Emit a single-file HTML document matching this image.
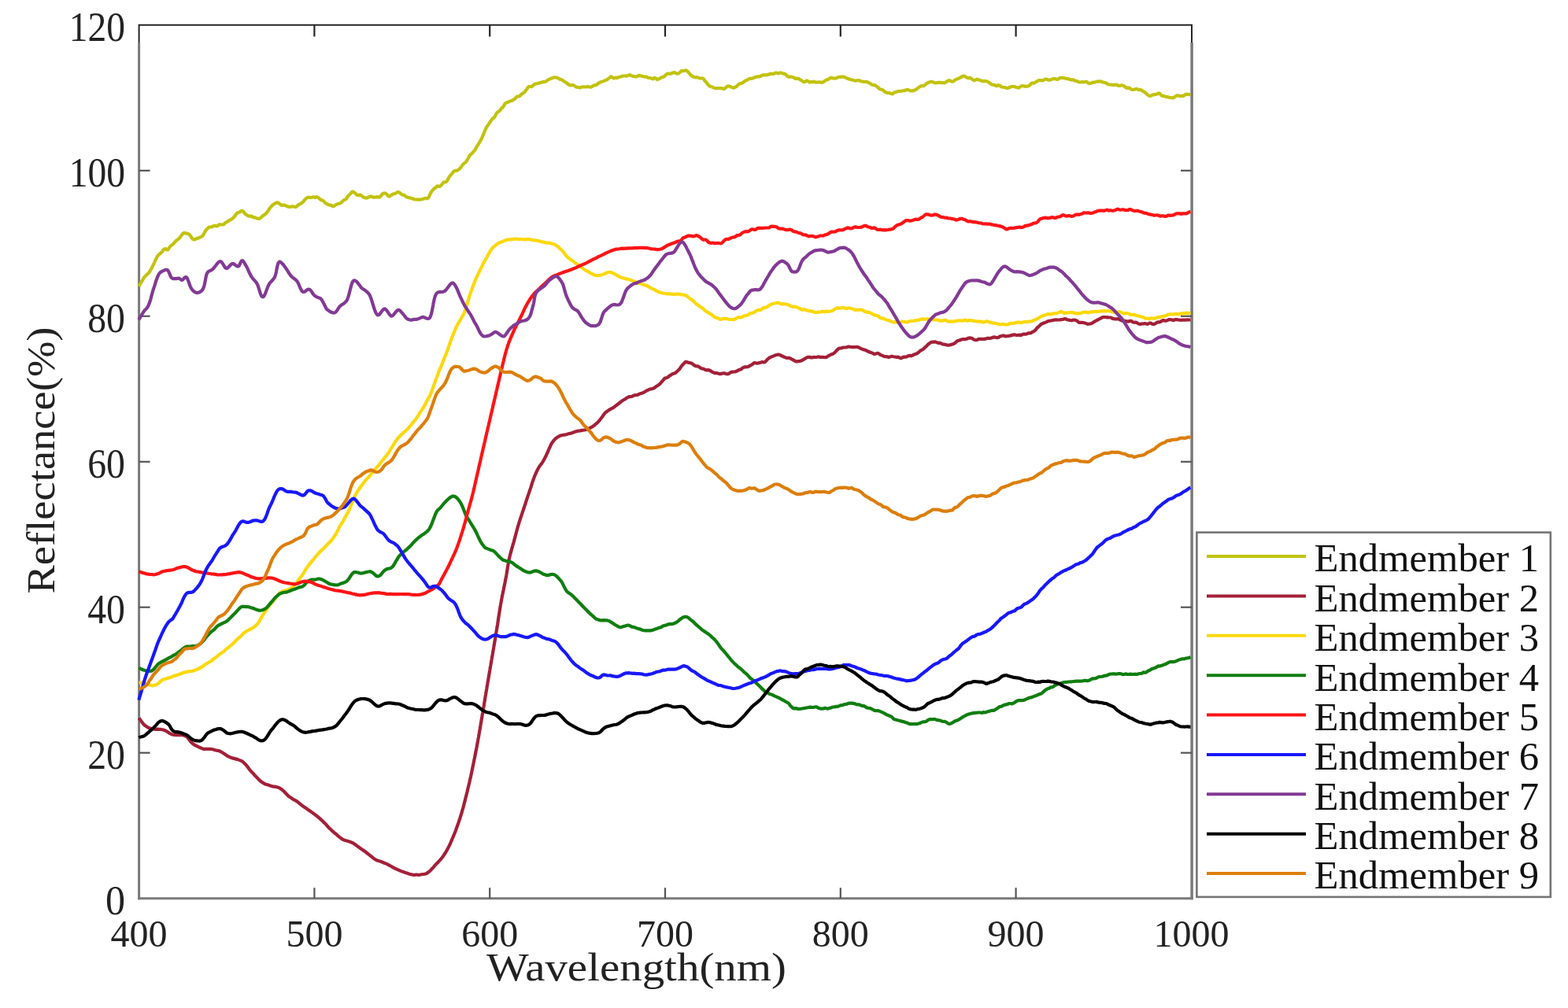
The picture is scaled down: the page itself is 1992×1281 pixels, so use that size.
<!DOCTYPE html>
<html><head><meta charset="utf-8"><style>html,body{margin:0;padding:0;background:#fff;overflow:hidden}svg{display:block}</style></head>
<body><svg width="1992" height="1281" viewBox="0 0 1992 1281">
<rect width="1992" height="1281" fill="#fff"/>
<line x1="176.6" y1="54" x2="176.6" y2="1143.2" stroke="#7a7a7a" stroke-width="3"/>
<line x1="1514.1" y1="54" x2="1514.1" y2="1143.2" stroke="#7a7a7a" stroke-width="3.5"/>
<line x1="175.1" y1="1141.7" x2="1515.5" y2="1141.7" stroke="#7a7a7a" stroke-width="3"/>
<path d="M176.6,54 V31.8 H1514 V54" fill="none" stroke="#262626" stroke-width="2"/>
<line x1="399.4" y1="1141.7" x2="399.4" y2="1128.2" stroke="#555" stroke-width="2.2"/>
<line x1="399.4" y1="31.8" x2="399.4" y2="46.5" stroke="#262626" stroke-width="2.2"/>
<line x1="622.2" y1="1141.7" x2="622.2" y2="1128.2" stroke="#555" stroke-width="2.2"/>
<line x1="622.2" y1="31.8" x2="622.2" y2="46.5" stroke="#262626" stroke-width="2.2"/>
<line x1="845.0" y1="1141.7" x2="845.0" y2="1128.2" stroke="#555" stroke-width="2.2"/>
<line x1="845.0" y1="31.8" x2="845.0" y2="46.5" stroke="#262626" stroke-width="2.2"/>
<line x1="1067.8" y1="1141.7" x2="1067.8" y2="1128.2" stroke="#555" stroke-width="2.2"/>
<line x1="1067.8" y1="31.8" x2="1067.8" y2="46.5" stroke="#262626" stroke-width="2.2"/>
<line x1="1290.6" y1="1141.7" x2="1290.6" y2="1128.2" stroke="#555" stroke-width="2.2"/>
<line x1="1290.6" y1="31.8" x2="1290.6" y2="46.5" stroke="#262626" stroke-width="2.2"/>
<line x1="176.6" y1="956.7" x2="190.6" y2="956.7" stroke="#555" stroke-width="2.2"/>
<line x1="1500" y1="956.7" x2="1514" y2="956.7" stroke="#555" stroke-width="2.2"/>
<line x1="176.6" y1="771.7" x2="190.6" y2="771.7" stroke="#555" stroke-width="2.2"/>
<line x1="1500" y1="771.7" x2="1514" y2="771.7" stroke="#555" stroke-width="2.2"/>
<line x1="176.6" y1="586.8" x2="190.6" y2="586.8" stroke="#555" stroke-width="2.2"/>
<line x1="1500" y1="586.8" x2="1514" y2="586.8" stroke="#555" stroke-width="2.2"/>
<line x1="176.6" y1="401.8" x2="190.6" y2="401.8" stroke="#555" stroke-width="2.2"/>
<line x1="1500" y1="401.8" x2="1514" y2="401.8" stroke="#555" stroke-width="2.2"/>
<line x1="176.6" y1="216.8" x2="190.6" y2="216.8" stroke="#555" stroke-width="2.2"/>
<line x1="1500" y1="216.8" x2="1514" y2="216.8" stroke="#555" stroke-width="2.2"/>
<path d="M176.5,364.0 177.2,362.5 178.2,360.8 179.2,359.0 180.2,357.4 181.2,355.9 182.2,354.1 183.2,352.3 184.1,351.3 185.0,350.5 186.1,349.4 187.1,348.5 188.1,347.8 189.0,347.0 190.0,345.4 191.0,343.6 192.1,341.9 193.1,340.1 194.0,338.0 195.0,336.1 195.7,334.6 196.4,333.0 197.0,331.5 197.7,330.2 198.3,329.0 199.1,327.4 200.0,325.8 201.3,324.1 202.8,322.7 204.3,321.5 205.9,320.1 207.5,317.6 209.0,316.3 210.4,316.2 211.9,317.4 213.4,317.3 215.0,314.7 216.3,312.9 217.7,311.8 219.1,311.0 220.5,309.5 222.0,307.8 223.4,306.3 224.8,305.0 226.2,304.1 227.5,303.1 229.0,301.2 230.5,299.2 232.0,297.1 233.4,296.0 234.8,296.1 236.2,296.6 237.5,296.7 238.8,297.1 240.1,297.7 241.4,298.9 242.6,300.6 243.8,302.7 245.0,304.0 246.7,304.5 248.3,304.0 250.0,302.9 251.5,302.9 253.0,302.2 254.6,301.4 256.1,300.5 257.5,299.6 258.6,297.8 259.6,295.9 260.5,294.3 261.4,292.8 262.4,291.6 263.8,290.3 265.3,288.8 267.1,288.5 269.0,288.4 271.0,287.2 273.0,286.8 275.0,287.5 276.8,286.9 278.6,285.3 280.4,285.3 282.3,285.5 284.1,285.4 285.8,283.4 287.5,282.6 289.1,281.4 290.6,280.4 292.0,279.7 293.4,279.2 294.8,278.1 296.2,276.9 297.5,275.6 298.8,273.9 300.1,272.1 301.3,270.6 302.5,270.3 303.7,269.7 305.0,269.2 306.2,268.0 307.7,267.8 309.1,268.8 310.5,270.8 312.0,272.1 313.5,273.3 315.0,274.2 316.6,274.8 318.3,274.5 320.0,275.1 321.7,276.1 323.4,276.3 325.0,276.9 326.9,277.6 328.8,277.9 330.6,277.3 332.5,275.7 333.7,274.3 335.0,273.6 336.2,272.7 337.5,271.7 338.7,270.4 340.0,268.8 341.2,267.0 342.5,265.0 343.8,263.4 345.2,261.8 346.5,260.3 347.9,259.4 349.3,258.6 350.8,257.8 352.5,257.3 354.2,258.2 356.0,259.8 358.0,260.9 360.0,260.6 362.1,260.8 364.1,261.8 366.2,262.7 368.2,262.9 370.0,262.6 371.9,262.2 373.8,262.7 375.7,263.2 377.5,261.8 379.2,260.0 380.9,259.6 382.5,258.4 384.1,257.3 385.5,255.9 386.8,254.3 388.1,253.0 389.6,251.6 391.2,250.8 392.8,250.8 394.5,251.2 396.4,250.8 398.3,250.3 400.3,251.1 402.2,250.2 404.1,250.9 405.9,252.5 407.5,253.9 409.4,254.5 411.1,255.5 412.7,257.4 414.3,258.7 415.9,259.5 417.5,260.2 419.2,260.7 420.9,260.9 422.7,262.3 424.4,261.9 426.2,260.4 428.0,259.6 429.8,259.1 431.6,258.6 433.5,257.5 435.3,255.6 437.1,254.1 438.7,253.4 440.1,252.6 441.4,250.3 442.6,248.6 443.8,247.3 445.0,246.5 446.2,245.2 447.4,243.6 448.8,243.8 450.2,244.7 451.7,246.1 453.2,247.6 454.8,247.9 456.4,247.8 458.2,247.9 460.0,249.3 461.6,250.6 463.4,251.3 465.3,251.6 467.2,251.1 469.2,250.1 471.2,249.6 473.2,250.2 475.1,250.9 476.9,250.5 478.5,250.2 480.0,250.4 481.8,250.6 483.3,249.8 484.7,247.8 486.1,246.3 487.5,245.6 489.3,245.5 491.2,246.7 493.1,249.1 495.0,249.6 496.6,248.4 498.2,247.2 499.9,246.3 501.6,246.1 503.3,245.3 505.0,244.2 506.6,244.2 508.2,245.2 509.8,246.9 511.5,247.6 513.2,247.9 515.0,249.2 516.7,250.5 518.5,251.0 520.4,251.4 522.4,251.9 524.4,252.5 526.3,253.2 528.2,253.5 530.0,253.7 532.0,253.7 533.9,253.6 535.8,253.3 537.7,252.8 539.5,252.1 541.2,252.0 542.6,252.3 543.9,251.6 545.1,249.6 546.3,246.9 547.5,244.6 548.7,242.7 549.9,241.5 551.1,240.1 552.5,238.9 554.0,237.9 555.5,236.3 557.2,236.8 558.8,236.9 560.4,235.6 562.0,233.5 563.6,231.6 565.0,231.5 566.4,231.3 567.7,230.2 568.9,228.1 570.1,225.9 571.3,224.0 572.4,222.7 573.7,221.2 575.0,219.6 576.3,217.9 577.8,217.2 579.2,216.9 580.7,216.7 582.1,215.9 583.6,214.8 585.0,213.3 586.2,211.6 587.4,209.8 588.6,208.5 589.6,207.6 590.6,206.9 591.7,206.2 592.7,204.6 593.8,202.8 595.0,200.7 596.0,199.0 597.1,197.1 598.3,196.0 599.5,195.1 600.7,193.7 601.9,192.3 603.2,191.0 604.4,188.7 605.6,186.5 606.8,184.7 607.9,183.0 609.0,181.2 610.0,179.5 610.9,177.7 611.8,176.1 612.6,174.4 613.3,172.7 614.1,171.0 614.8,169.3 615.5,167.5 616.1,165.7 616.9,164.1 617.6,162.6 618.3,161.2 619.1,160.1 620.0,159.1 621.2,157.3 622.3,155.4 623.6,153.5 624.8,151.9 626.1,150.4 627.4,149.8 628.7,148.0 630.0,145.5 631.2,143.4 632.4,142.2 633.6,141.7 634.9,140.5 636.2,139.0 637.4,137.3 638.7,136.4 640.0,134.6 641.2,132.3 642.5,130.9 644.1,130.2 645.8,129.7 647.4,128.9 649.0,128.3 650.7,127.7 652.5,126.7 653.9,125.9 655.3,124.3 656.8,122.7 658.3,122.5 659.8,122.4 661.4,120.8 662.9,119.4 664.5,118.3 666.0,117.4 667.5,115.6 669.1,113.5 670.6,111.3 672.2,109.9 673.8,110.0 675.3,110.3 676.8,108.9 678.4,107.5 679.8,106.6 681.2,106.4 683.1,106.0 684.8,105.6 686.5,105.0 688.2,104.6 690.0,104.0 691.7,104.1 693.5,103.6 695.4,102.0 697.2,100.9 699.1,100.2 700.8,99.4 702.5,98.8 704.5,98.3 706.3,98.5 708.1,98.9 710.0,99.8 711.4,100.7 712.9,101.1 714.5,101.9 716.1,103.0 717.7,104.2 719.3,104.9 720.9,106.3 722.5,107.5 724.2,108.3 726.0,108.4 727.7,107.9 729.4,108.6 731.2,110.2 733.1,110.8 735.0,111.0 736.8,111.4 738.7,110.8 740.7,110.3 742.8,110.5 744.8,110.3 746.8,110.0 748.8,110.5 750.7,110.8 752.5,109.7 754.4,108.4 756.3,108.4 758.1,107.6 759.8,106.1 761.6,104.9 763.3,104.2 765.0,103.7 766.6,103.1 768.2,102.5 769.8,102.0 771.4,101.1 773.0,100.0 774.6,98.6 776.2,97.2 778.1,98.4 779.9,99.6 781.8,98.5 783.7,99.1 785.6,98.2 787.5,97.8 789.2,97.3 791.0,96.5 792.7,96.5 794.5,96.4 796.3,96.7 798.1,95.9 800.0,95.0 801.8,96.1 803.7,96.8 805.6,96.8 807.6,97.7 809.6,97.1 811.6,95.8 813.6,96.1 815.5,96.9 817.5,97.2 819.5,97.6 821.5,97.6 823.5,98.9 825.5,99.0 827.5,99.6 829.4,100.4 831.3,98.8 833.2,99.6 835.0,101.1 836.9,100.4 838.7,99.4 840.5,98.3 842.2,97.9 844.0,97.0 845.7,95.3 847.5,93.9 849.3,93.5 851.1,93.6 852.9,93.5 854.7,92.4 856.5,91.9 858.3,92.8 860.0,93.7 861.9,93.5 863.9,91.8 865.8,90.2 867.7,90.1 869.5,90.0 871.2,89.3 872.8,90.1 874.2,91.3 875.6,93.0 877.0,94.9 878.4,96.2 880.0,97.0 881.7,97.9 883.5,98.4 885.4,98.2 887.3,98.7 889.2,99.5 890.9,99.5 892.5,99.4 893.9,100.3 895.1,102.1 896.3,103.6 897.4,104.7 898.6,106.4 900.0,108.1 901.5,109.6 903.1,109.9 904.8,110.6 906.6,111.4 908.4,112.1 910.3,112.1 912.0,112.0 913.8,112.2 915.7,112.1 917.6,112.4 919.6,113.1 921.4,112.0 923.3,110.2 925.0,109.3 927.0,109.7 928.8,110.6 930.6,111.4 932.5,111.6 934.1,110.6 935.7,110.0 937.3,108.2 939.0,106.5 940.7,106.1 942.5,105.8 944.0,104.9 945.6,103.5 947.3,102.5 949.1,101.7 950.8,100.7 952.6,99.8 954.3,99.8 955.9,99.6 957.5,99.0 959.2,98.2 960.9,97.6 962.4,97.3 964.0,97.3 965.7,97.1 967.5,96.0 969.1,95.4 970.7,95.4 972.4,95.4 974.2,95.1 976.0,94.9 977.9,94.0 979.7,93.6 981.5,93.9 983.3,93.6 985.0,92.6 986.9,92.6 988.9,93.4 990.8,92.5 992.7,92.5 994.5,93.5 996.4,93.7 998.2,94.7 1000.0,96.5 1001.9,97.7 1003.7,97.7 1005.4,97.7 1007.2,98.0 1009.0,99.0 1010.7,99.8 1012.5,99.7 1014.3,99.9 1016.1,101.0 1017.8,102.1 1019.6,103.3 1021.4,104.2 1023.2,103.6 1025.0,102.4 1026.8,103.5 1028.6,104.6 1030.3,104.1 1032.1,104.1 1033.9,103.7 1035.7,104.5 1037.5,104.6 1039.3,104.4 1041.0,104.4 1042.8,104.6 1044.5,104.9 1046.3,103.9 1048.1,102.8 1050.0,101.4 1051.6,101.2 1053.3,100.0 1055.0,98.9 1056.8,99.1 1058.6,99.4 1060.4,99.7 1062.2,99.4 1063.9,98.4 1065.7,97.9 1067.5,97.9 1069.5,97.6 1071.4,97.5 1073.4,98.3 1075.4,99.2 1077.4,100.0 1079.4,100.7 1081.3,101.2 1083.2,101.7 1085.0,102.2 1086.9,102.6 1088.7,102.3 1090.5,102.0 1092.2,102.5 1093.9,103.3 1095.7,103.6 1097.5,104.0 1099.1,103.8 1100.8,103.8 1102.4,104.5 1104.0,105.3 1105.7,106.3 1107.4,107.4 1109.1,108.0 1110.8,108.0 1112.5,108.8 1114.2,110.1 1115.9,111.6 1117.7,113.2 1119.4,113.7 1121.2,114.1 1123.0,115.7 1124.8,117.2 1126.5,117.8 1128.3,118.1 1130.0,118.1 1131.9,118.9 1133.8,119.5 1135.7,117.6 1137.5,117.2 1139.4,116.6 1141.3,115.9 1143.1,116.0 1145.0,115.7 1146.9,115.3 1148.7,115.1 1150.6,114.6 1152.4,113.9 1154.3,114.2 1156.2,115.3 1158.1,115.4 1160.0,115.4 1161.6,114.6 1163.2,114.2 1164.8,112.9 1166.5,111.6 1168.1,110.5 1169.8,109.3 1171.5,109.0 1173.2,109.3 1174.9,108.0 1176.6,106.6 1178.3,105.5 1180.0,104.7 1182.0,103.9 1183.9,103.9 1185.9,104.5 1187.9,105.4 1189.9,105.3 1191.9,104.8 1193.9,104.9 1195.9,105.1 1198.0,105.2 1200.0,105.5 1201.9,104.1 1203.7,103.1 1205.7,102.1 1207.6,102.8 1209.5,103.7 1211.5,103.2 1213.4,101.5 1215.3,100.5 1217.2,100.0 1219.0,99.2 1220.8,98.2 1222.5,97.0 1224.5,96.5 1226.5,97.5 1228.4,98.7 1230.3,99.2 1232.1,98.8 1233.9,99.8 1235.7,101.2 1237.5,102.3 1239.3,101.6 1241.1,100.7 1242.9,101.2 1244.6,101.9 1246.4,102.5 1248.2,103.1 1250.0,103.2 1251.8,103.0 1253.6,103.3 1255.4,104.2 1257.3,105.5 1259.1,106.9 1261.1,107.7 1263.0,107.8 1265.0,108.9 1266.7,109.1 1268.4,108.2 1270.2,108.8 1272.0,110.3 1273.9,110.7 1275.7,111.0 1277.6,111.4 1279.5,112.2 1281.3,111.5 1283.2,110.7 1285.0,110.0 1286.8,109.8 1288.7,110.0 1290.5,110.8 1292.3,111.2 1294.2,111.7 1296.0,110.3 1297.9,109.2 1299.7,109.2 1301.5,109.7 1303.2,109.9 1305.0,109.7 1306.8,109.2 1308.6,107.6 1310.3,105.9 1312.0,105.5 1313.7,105.6 1315.5,104.5 1317.2,103.6 1318.9,102.4 1320.7,102.0 1322.5,102.2 1324.3,102.4 1326.1,101.7 1327.9,100.5 1329.8,100.7 1331.7,101.7 1333.6,101.7 1335.5,101.1 1337.3,100.3 1339.1,99.9 1340.9,100.2 1342.5,100.8 1344.4,100.6 1346.2,99.2 1347.9,99.0 1349.6,98.9 1351.3,99.1 1353.1,99.6 1355.0,99.9 1356.6,100.1 1358.4,100.7 1360.1,101.4 1361.9,101.4 1363.8,101.4 1365.6,102.6 1367.5,102.9 1369.4,103.8 1371.3,104.5 1373.2,104.5 1375.0,103.9 1376.8,104.4 1378.6,103.9 1380.4,103.8 1382.3,105.6 1384.1,106.2 1385.9,105.8 1387.7,104.8 1389.6,104.6 1391.4,104.4 1393.2,103.6 1395.0,103.7 1396.8,103.4 1398.7,103.5 1400.5,104.2 1402.4,104.8 1404.3,105.2 1406.1,106.2 1407.9,107.2 1409.8,107.5 1411.5,107.6 1413.3,107.9 1415.0,107.8 1417.0,107.6 1419.0,108.0 1420.9,108.9 1422.8,108.9 1424.7,108.3 1426.5,108.7 1428.3,109.7 1430.0,111.0 1431.8,111.9 1433.5,111.6 1435.1,111.8 1436.7,113.3 1438.4,114.0 1440.0,113.9 1441.7,113.5 1443.4,113.1 1445.0,113.2 1446.7,114.2 1448.4,113.9 1450.0,114.4 1451.7,115.8 1453.4,116.7 1455.0,117.6 1456.6,119.4 1458.3,120.7 1460.0,121.7 1461.6,122.1 1463.3,121.0 1465.0,120.3 1466.7,120.2 1468.3,120.1 1470.0,119.5 1471.6,118.4 1473.3,118.7 1474.9,120.7 1476.5,121.8 1478.2,121.9 1480.0,122.4 1481.7,123.1 1483.5,123.1 1485.3,123.8 1487.2,124.0 1489.2,124.5 1491.1,124.0 1493.1,122.6 1495.0,121.3 1496.9,121.5 1498.8,122.0 1500.7,122.1 1502.7,122.1 1504.7,120.9 1506.6,119.7 1508.6,119.8 1510.5,120.1 1512.5,119.9" fill="none" stroke="#c2c210" stroke-width="4.2" stroke-linejoin="round" stroke-linecap="butt"/>
<path d="M176.5,912.4 177.5,913.8 178.7,915.4 179.9,917.1 181.1,918.7 182.3,920.2 183.6,921.5 185.0,922.6 186.5,923.6 188.1,924.5 189.8,925.2 191.5,925.7 193.2,926.0 195.0,926.4 196.7,926.8 198.5,926.8 200.3,926.7 202.1,926.8 203.9,926.9 205.7,927.2 207.5,927.5 209.3,928.2 211.1,929.0 212.8,930.1 214.5,931.3 216.3,932.4 218.1,933.2 220.0,933.6 221.8,934.0 223.7,934.2 225.7,934.1 227.7,934.1 229.6,934.1 231.5,934.1 233.3,934.6 235.0,935.2 236.4,935.9 237.8,936.9 239.0,938.2 240.1,939.7 241.3,941.2 242.4,942.8 243.7,944.0 245.0,945.2 246.6,946.3 248.4,947.3 250.1,948.2 252.0,949.2 253.8,950.0 255.7,950.8 257.5,951.4 259.3,951.9 261.1,951.9 262.9,951.9 264.7,951.9 266.5,951.9 268.3,952.0 270.0,952.3 271.7,952.7 273.4,953.2 275.0,953.6 276.7,953.8 278.3,954.2 280.0,955.0 281.5,955.8 283.0,956.7 284.6,957.7 286.1,958.8 287.6,959.9 289.2,960.8 290.8,961.6 292.5,962.5 294.3,963.1 296.2,963.6 298.1,964.1 300.1,964.6 302.0,965.1 303.9,965.9 305.8,966.6 307.5,967.4 308.9,968.4 310.2,969.7 311.5,971.0 312.8,972.4 314.0,973.9 315.2,975.4 316.3,977.0 317.5,978.6 318.8,980.0 320.0,981.3 321.4,982.7 322.7,984.2 324.1,985.7 325.4,987.1 326.8,988.6 328.2,990.0 329.6,991.4 331.0,992.7 332.5,993.8 334.2,994.9 336.0,996.0 337.8,996.8 339.6,997.3 341.5,997.8 343.3,998.4 345.0,999.1 346.7,999.6 348.4,999.7 350.1,999.8 351.7,1000.2 353.4,1000.7 355.0,1001.4 356.4,1002.2 357.8,1003.2 359.2,1004.3 360.6,1005.6 362.0,1007.0 363.4,1008.5 364.8,1010.0 366.1,1011.4 367.5,1012.5 369.2,1013.6 370.9,1014.7 372.5,1015.8 374.2,1016.7 375.9,1017.6 377.5,1018.6 378.9,1019.7 380.3,1020.9 381.7,1022.0 383.1,1023.1 384.6,1024.3 386.0,1025.3 387.5,1026.3 389.0,1027.3 390.6,1028.5 392.2,1029.6 393.8,1030.6 395.4,1031.7 397.0,1032.9 398.5,1034.0 400.0,1035.1 401.5,1036.2 403.0,1037.4 404.4,1038.6 405.7,1039.7 407.1,1040.9 408.5,1042.2 410.0,1043.6 411.3,1044.9 412.7,1046.2 414.1,1047.6 415.4,1049.1 416.8,1050.8 418.2,1052.3 419.7,1053.6 421.1,1055.0 422.5,1056.4 423.9,1057.5 425.2,1058.7 426.6,1059.7 428.0,1060.9 429.3,1062.2 430.7,1063.3 432.1,1064.4 433.6,1065.5 435.0,1066.6 436.7,1067.5 438.5,1068.0 440.3,1068.4 442.1,1068.9 443.9,1069.6 445.7,1070.2 447.5,1071.0 449.0,1071.7 450.5,1072.7 452.0,1073.8 453.5,1074.9 455.0,1076.1 456.5,1077.1 458.0,1078.2 459.5,1079.2 461.0,1080.2 462.5,1081.2 464.0,1082.3 465.5,1083.5 467.0,1084.7 468.5,1085.9 470.0,1087.1 471.5,1088.2 473.0,1089.5 474.5,1090.7 476.0,1091.7 477.5,1092.6 479.3,1093.5 481.1,1094.1 482.9,1094.6 484.7,1095.3 486.5,1096.0 488.2,1096.7 490.0,1097.4 491.8,1098.2 493.5,1099.1 495.3,1100.0 497.1,1101.0 498.8,1102.1 500.6,1103.0 502.5,1104.0 504.1,1104.7 505.7,1105.4 507.4,1106.1 509.1,1106.9 510.8,1107.6 512.5,1108.1 514.2,1108.7 515.9,1109.2 517.5,1109.7 519.3,1110.4 521.1,1110.9 522.9,1111.4 524.7,1111.8 526.5,1111.8 528.2,1111.7 530.0,1111.7 531.8,1111.8 533.7,1111.6 535.5,1111.3 537.3,1111.0 539.1,1110.8 540.9,1110.5 542.5,1109.7 544.1,1108.5 545.6,1107.3 547.0,1106.0 548.3,1104.6 549.7,1103.2 551.1,1101.6 552.5,1099.9 553.7,1098.5 555.0,1097.2 556.3,1095.9 557.6,1094.6 558.9,1093.1 560.2,1091.6 561.5,1090.0 562.7,1088.4 563.9,1086.7 565.0,1085.0 566.0,1083.5 566.9,1082.0 567.8,1080.4 568.6,1078.8 569.5,1077.2 570.3,1075.6 571.1,1074.0 571.9,1072.3 572.7,1070.5 573.4,1068.7 574.2,1066.9 575.0,1065.0 575.7,1063.4 576.4,1061.7 577.1,1060.0 577.8,1058.3 578.5,1056.6 579.2,1054.7 579.8,1052.8 580.5,1050.9 581.2,1049.1 581.8,1047.3 582.5,1045.4 583.1,1043.6 583.7,1041.7 584.4,1039.7 585.0,1037.8 585.5,1036.1 586.1,1034.4 586.6,1032.6 587.1,1030.8 587.6,1028.9 588.2,1027.1 588.7,1025.2 589.2,1023.3 589.7,1021.3 590.2,1019.4 590.7,1017.6 591.1,1015.7 591.6,1013.8 592.1,1011.8 592.6,1009.9 593.1,1007.9 593.6,1006.0 594.0,1004.0 594.5,1002.0 595.0,1000.1 595.4,998.3 595.8,996.5 596.3,994.7 596.7,992.8 597.1,990.9 597.5,989.1 598.0,987.2 598.4,985.2 598.8,983.3 599.2,981.4 599.6,979.5 600.0,977.5 600.4,975.5 600.8,973.5 601.2,971.6 601.6,969.6 602.0,967.7 602.4,965.8 602.8,963.9 603.2,962.0 603.5,960.1 603.9,958.2 604.3,956.3 604.6,954.4 605.0,952.6 605.4,950.6 605.8,948.7 606.1,946.7 606.5,944.8 606.8,942.9 607.2,940.9 607.5,939.0 607.9,937.1 608.2,935.2 608.5,933.3 608.9,931.4 609.2,929.5 609.5,927.6 609.9,925.7 610.2,923.8 610.5,921.9 610.8,919.9 611.2,918.0 611.5,916.0 611.8,914.0 612.2,912.0 612.5,910.0 612.8,908.0 613.2,906.1 613.5,904.2 613.8,902.3 614.1,900.4 614.4,898.5 614.8,896.6 615.1,894.6 615.4,892.7 615.7,890.8 616.0,888.9 616.3,887.0 616.6,885.0 617.0,883.1 617.3,881.2 617.6,879.3 617.9,877.4 618.3,875.4 618.6,873.4 618.9,871.4 619.3,869.4 619.6,867.3 620.0,865.2 620.3,863.4 620.6,861.6 620.9,859.7 621.3,857.8 621.6,855.8 621.9,853.8 622.3,851.8 622.6,849.8 622.9,847.8 623.3,845.8 623.6,843.8 624.0,841.7 624.3,839.7 624.7,837.6 625.0,835.5 625.4,833.5 625.8,831.4 626.1,829.3 626.5,827.2 626.8,825.1 627.2,823.1 627.5,821.0 627.9,818.9 628.2,816.9 628.5,815.0 628.9,813.0 629.2,811.1 629.5,809.2 629.8,807.3 630.1,805.5 630.4,803.6 630.7,801.9 631.0,800.2 631.4,798.0 631.7,795.8 632.1,793.6 632.4,791.5 632.7,789.4 633.0,787.4 633.3,785.4 633.6,783.4 633.9,781.4 634.2,779.5 634.5,777.6 634.8,775.7 635.1,773.8 635.4,772.0 635.7,770.1 636.0,768.3 636.3,766.5 636.7,764.7 637.0,762.8 637.4,760.9 637.7,758.9 638.1,757.0 638.5,755.1 638.9,753.2 639.3,751.3 639.7,749.4 640.0,747.5 640.4,745.7 640.8,743.8 641.2,742.0 641.6,740.1 641.9,738.2 642.3,736.3 642.7,734.5 643.0,732.6 643.4,730.6 643.7,728.7 644.0,726.7 644.3,724.8 644.6,722.9 644.9,721.0 645.2,719.1 645.5,717.3 645.9,715.4 646.2,713.6 646.5,711.8 646.9,710.0 647.3,708.2 647.7,706.4 648.2,704.6 648.7,702.7 649.2,700.9 649.7,699.1 650.2,697.2 650.8,695.4 651.3,693.5 651.8,691.7 652.4,689.8 652.9,688.0 653.4,686.1 653.9,684.3 654.4,682.4 654.9,680.5 655.4,678.6 655.9,676.7 656.4,674.8 656.9,673.0 657.4,671.1 657.9,669.3 658.5,667.5 659.0,665.7 659.5,663.9 660.1,662.1 660.7,660.2 661.3,658.4 661.9,656.6 662.5,654.8 663.1,653.1 663.7,651.3 664.3,649.4 665.0,647.6 665.6,645.6 666.2,643.8 666.8,642.0 667.4,640.1 668.0,638.3 668.6,636.4 669.2,634.5 669.9,632.6 670.5,630.7 671.1,628.9 671.8,627.0 672.4,625.1 673.1,623.3 673.7,621.4 674.4,619.4 675.0,617.4 675.6,615.4 676.2,613.4 676.9,611.4 677.5,609.5 678.2,607.7 678.8,606.0 679.5,604.3 680.3,602.6 681.0,600.9 681.8,599.2 682.7,597.3 683.7,595.5 684.7,593.7 685.7,592.2 686.8,590.7 687.9,589.4 688.9,587.9 690.0,586.1 691.0,584.3 692.0,582.4 692.9,580.8 693.7,579.1 694.5,577.3 695.3,575.6 696.1,573.8 696.9,571.9 697.7,570.0 698.6,568.1 699.4,566.3 700.2,564.6 701.1,563.0 702.0,561.7 703.3,560.1 704.6,558.6 705.9,557.2 707.3,556.2 708.8,555.3 710.3,554.4 712.2,553.5 714.4,553.0 716.5,552.7 718.4,552.4 720.0,552.0 721.2,551.6 722.5,551.1 723.8,550.9 725.4,550.6 727.2,550.0 729.1,549.2 731.1,548.6 733.1,548.0 735.0,547.6 736.8,547.4 738.6,547.1 740.4,546.8 742.2,546.5 744.0,546.2 745.8,545.6 747.5,545.0 749.1,544.1 750.8,543.2 752.4,542.4 754.0,541.3 755.6,540.0 757.1,538.6 758.6,537.5 760.0,536.1 761.2,534.7 762.4,533.2 763.5,531.8 764.5,530.5 765.6,529.0 766.6,527.5 767.7,526.0 768.8,524.7 770.0,523.7 771.6,522.5 773.1,521.4 774.8,520.4 776.4,519.5 778.2,518.7 780.0,517.5 781.4,516.4 782.9,515.2 784.5,514.0 786.1,512.8 787.7,511.5 789.4,510.1 791.1,508.9 792.7,508.0 794.4,506.9 796.0,505.8 797.5,505.0 799.3,504.2 801.1,504.2 802.9,503.8 804.6,502.9 806.4,502.2 808.2,502.2 810.0,501.8 811.6,500.9 813.3,500.3 815.0,499.8 816.8,499.2 818.5,498.3 820.2,497.2 821.9,496.2 823.5,495.6 825.0,494.8 826.8,494.3 828.5,494.1 830.1,493.6 831.7,492.6 833.3,491.3 835.0,490.3 836.4,489.4 837.9,488.2 839.4,486.7 841.0,484.9 842.5,483.1 844.0,481.2 845.6,480.4 847.1,480.0 848.6,479.4 850.0,477.8 851.7,477.0 853.5,475.7 855.1,474.9 856.8,474.5 858.4,473.7 860.0,472.1 861.3,471.0 862.5,469.8 863.7,468.5 864.9,466.5 866.1,464.8 867.3,463.5 868.5,462.4 869.8,461.0 871.2,459.7 872.8,460.1 874.5,460.8 876.2,460.9 878.0,461.4 879.8,462.5 881.5,463.9 883.3,465.0 885.0,465.4 886.8,465.4 888.6,466.6 890.3,467.9 892.0,468.4 893.8,468.7 895.6,469.8 897.5,470.4 899.2,470.2 900.9,470.3 902.7,471.4 904.5,472.5 906.3,473.4 908.1,474.1 910.0,474.2 911.9,474.4 913.8,475.1 915.6,475.2 917.5,474.5 919.4,474.2 921.3,474.6 923.3,475.4 925.2,475.2 927.1,473.9 929.0,472.9 930.8,472.7 932.5,472.5 934.4,472.3 936.3,471.5 938.0,470.4 939.7,469.7 941.4,469.4 943.2,467.7 945.0,466.8 946.6,466.3 948.3,466.3 950.0,466.2 951.7,465.4 953.4,464.4 955.1,463.5 956.8,462.2 958.4,461.0 960.0,461.3 961.7,461.7 963.4,461.4 965.0,461.0 966.6,460.6 968.3,460.1 970.0,460.3 971.6,460.2 973.2,458.7 974.8,456.8 976.5,455.4 978.1,454.4 979.8,453.5 981.6,453.0 983.3,452.1 985.0,451.3 986.8,451.0 988.7,450.5 990.6,451.0 992.6,452.0 994.5,452.8 996.4,453.8 998.2,454.4 1000.0,455.0 1001.9,454.7 1003.7,455.3 1005.5,456.4 1007.2,457.2 1009.0,458.2 1010.7,459.1 1012.5,459.4 1014.3,459.2 1016.0,458.9 1017.8,458.5 1019.5,457.7 1021.3,456.5 1023.1,455.6 1025.0,454.2 1026.8,453.8 1028.6,453.9 1030.5,454.4 1032.4,454.3 1034.3,453.9 1036.2,454.0 1038.1,453.8 1040.0,453.3 1041.9,453.9 1043.8,453.8 1045.7,453.9 1047.6,454.2 1049.5,454.2 1051.3,453.0 1053.2,451.8 1055.0,450.9 1056.5,450.3 1058.1,449.7 1059.6,448.8 1061.0,447.4 1062.5,445.8 1064.0,444.3 1065.4,443.1 1066.9,442.6 1068.4,442.5 1070.0,442.0 1071.8,441.5 1073.7,441.5 1075.6,441.3 1077.5,440.6 1079.4,440.7 1081.3,441.0 1083.2,441.2 1085.0,441.2 1086.9,441.0 1088.7,440.9 1090.5,441.3 1092.2,442.2 1094.0,443.1 1095.7,443.8 1097.5,444.4 1099.3,444.8 1101.0,445.7 1102.6,446.5 1104.3,447.2 1106.1,448.0 1108.0,448.5 1110.0,449.6 1111.6,449.9 1113.4,449.2 1115.2,448.8 1117.1,449.9 1119.0,451.3 1121.0,451.8 1123.0,452.8 1125.1,453.1 1127.1,453.4 1129.1,453.9 1131.1,453.3 1133.1,452.8 1135.0,453.2 1136.9,453.5 1138.9,453.9 1140.8,453.6 1142.8,454.7 1144.7,455.3 1146.7,454.1 1148.6,453.6 1150.5,453.7 1152.3,453.2 1154.1,452.2 1155.8,451.9 1157.5,452.3 1159.4,451.5 1161.2,450.6 1162.9,450.1 1164.6,449.4 1166.2,448.4 1167.8,447.0 1169.4,445.5 1170.9,444.8 1172.5,443.9 1174.1,442.5 1175.6,441.0 1177.1,439.8 1178.6,438.0 1180.1,436.9 1181.6,435.8 1183.2,434.8 1185.0,434.5 1186.6,434.7 1188.3,434.3 1190.0,435.1 1191.9,435.8 1193.7,435.7 1195.6,436.4 1197.5,437.5 1199.4,437.6 1201.3,438.0 1203.2,438.6 1205.0,438.7 1206.8,438.5 1208.7,437.7 1210.5,437.4 1212.3,436.6 1214.1,435.1 1215.9,433.5 1217.7,432.8 1219.5,432.4 1221.3,431.5 1223.2,431.0 1225.0,431.2 1226.8,431.1 1228.6,430.5 1230.4,429.6 1232.2,429.4 1234.1,429.7 1235.9,430.7 1237.7,431.8 1239.5,432.2 1241.4,431.9 1243.2,430.9 1245.0,430.9 1246.8,430.8 1248.6,430.8 1250.5,430.9 1252.3,430.6 1254.1,429.9 1255.9,429.8 1257.7,429.9 1259.5,429.5 1261.4,428.8 1263.2,428.4 1265.0,428.8 1266.8,429.1 1268.6,428.7 1270.4,427.4 1272.2,427.1 1274.0,426.6 1275.8,426.6 1277.6,427.5 1279.4,427.2 1281.2,426.9 1283.1,426.6 1285.0,426.1 1286.9,425.6 1288.8,425.2 1290.7,425.8 1292.8,426.0 1294.8,425.6 1296.8,426.1 1298.8,425.1 1300.9,424.5 1302.8,424.7 1304.7,424.2 1306.6,423.3 1308.3,423.4 1310.0,423.0 1311.7,421.8 1313.3,421.1 1314.8,420.0 1316.2,418.5 1317.6,416.5 1319.0,415.5 1320.4,414.2 1321.8,412.7 1323.4,411.5 1325.0,411.0 1326.7,410.3 1328.4,409.6 1330.1,408.8 1331.9,408.0 1333.8,407.7 1335.6,407.5 1337.5,407.0 1339.4,406.6 1341.3,406.4 1343.2,406.5 1345.0,406.5 1346.8,406.4 1348.6,406.0 1350.4,405.8 1352.3,405.2 1354.1,405.3 1355.9,406.3 1357.7,406.6 1359.5,407.0 1361.4,407.3 1363.2,406.6 1365.0,406.6 1366.8,407.0 1368.7,408.1 1370.6,409.8 1372.4,409.8 1374.3,409.8 1376.2,410.0 1378.0,410.5 1379.8,411.1 1381.6,411.8 1383.3,411.7 1385.0,411.5 1386.8,411.0 1388.5,409.9 1390.2,408.9 1391.8,407.8 1393.4,407.1 1395.0,406.1 1396.7,405.3 1398.3,404.5 1400.0,403.6 1401.8,403.0 1403.6,403.0 1405.5,403.3 1407.3,403.2 1409.2,403.5 1411.1,403.5 1413.0,404.6 1415.0,405.1 1416.7,405.3 1418.4,405.5 1420.2,405.1 1422.0,405.8 1423.8,406.9 1425.6,407.6 1427.4,407.7 1429.3,407.9 1431.2,408.2 1433.1,408.7 1435.0,408.1 1436.8,407.8 1438.7,409.1 1440.6,409.8 1442.6,409.5 1444.5,410.2 1446.5,411.5 1448.5,412.0 1450.5,411.4 1452.4,411.5 1454.4,411.0 1456.3,411.6 1458.2,411.8 1460.0,410.7 1461.9,410.6 1463.7,411.8 1465.5,411.9 1467.2,411.6 1469.0,410.3 1470.7,409.4 1472.5,409.4 1474.2,409.0 1476.1,407.6 1478.0,407.1 1480.0,407.6 1481.7,407.6 1483.5,406.8 1485.3,406.0 1487.1,406.3 1489.0,406.4 1490.9,407.2 1492.8,406.2 1494.8,406.1 1496.7,406.5 1498.7,406.7 1500.7,406.8 1502.7,406.5 1504.7,406.7 1506.7,406.6 1508.6,406.3 1510.6,406.5 1512.5,406.3" fill="none" stroke="#a32038" stroke-width="4.2" stroke-linejoin="round" stroke-linecap="butt"/>
<path d="M176.5,867.7 178.0,867.6 179.7,867.7 181.5,867.9 183.2,868.2 185.0,868.9 186.6,869.3 188.3,869.7 189.9,870.2 191.6,870.9 193.3,871.3 195.0,871.1 196.5,870.7 198.0,870.2 199.6,869.5 201.1,868.4 202.6,867.1 204.2,865.6 205.8,864.3 207.5,863.4 209.3,862.9 211.1,862.4 213.0,861.9 214.9,861.4 216.8,860.8 218.7,859.9 220.6,859.1 222.5,858.6 224.4,858.1 226.3,857.4 228.2,856.8 230.1,856.0 232.0,855.2 233.8,854.6 235.7,854.2 237.5,853.8 239.3,853.4 241.2,853.1 243.0,853.0 244.7,852.7 246.5,852.1 248.3,851.5 250.0,850.9 251.6,850.3 253.2,849.4 254.8,848.4 256.3,847.6 257.9,846.7 259.4,845.4 261.0,844.2 262.5,843.4 264.1,842.5 265.7,841.5 267.2,840.7 268.8,839.7 270.3,838.2 271.9,837.0 273.5,836.0 275.0,834.9 276.4,833.5 277.8,832.4 279.2,831.3 280.6,830.4 282.0,829.4 283.4,828.5 284.7,827.4 286.1,826.0 287.5,824.7 288.9,823.8 290.3,822.8 291.7,821.5 293.1,820.2 294.5,819.1 295.8,818.0 297.2,816.7 298.6,815.2 300.0,813.8 301.4,812.4 302.8,811.2 304.1,810.1 305.5,808.9 306.9,807.5 308.3,806.0 309.7,804.6 311.1,803.4 312.5,802.5 314.0,801.6 315.6,800.8 317.3,800.0 318.9,799.2 320.5,798.3 322.1,797.3 323.6,796.3 325.0,795.0 326.2,793.8 327.3,792.5 328.3,791.1 329.3,789.6 330.2,788.0 331.2,786.4 332.1,784.7 333.0,783.0 334.0,781.4 335.0,780.0 336.1,778.4 337.2,776.8 338.2,775.2 339.3,773.6 340.4,772.2 341.5,770.8 342.6,769.3 343.8,767.8 345.0,766.3 346.2,765.1 347.3,763.6 348.5,762.1 349.7,760.6 351.0,759.1 352.2,757.5 353.5,755.7 354.8,754.2 356.1,753.0 357.5,752.3 359.2,751.4 361.0,750.7 362.8,750.3 364.7,749.9 366.5,749.3 368.3,748.5 370.0,747.4 371.4,746.5 372.7,745.0 374.0,743.6 375.2,742.3 376.5,740.7 377.7,739.1 378.9,737.6 380.1,735.9 381.3,734.2 382.5,732.7 383.7,731.2 384.8,729.7 385.9,727.8 387.0,726.0 388.1,724.1 389.2,722.5 390.3,720.9 391.5,719.2 392.6,717.6 393.8,716.1 395.0,714.7 396.2,713.3 397.4,711.9 398.6,710.5 399.9,708.9 401.1,707.4 402.4,705.8 403.7,704.2 405.0,702.9 406.3,701.6 407.5,700.2 408.8,699.1 410.0,697.9 411.4,696.6 412.9,695.0 414.3,693.5 415.8,692.0 417.2,690.5 418.6,689.2 419.9,688.1 421.2,686.6 422.5,684.8 423.5,683.3 424.5,681.9 425.5,680.5 426.4,679.1 427.3,677.5 428.1,675.9 429.0,674.2 429.9,672.4 430.7,670.7 431.6,669.1 432.5,667.5 433.4,666.1 434.3,664.6 435.3,663.1 436.2,661.6 437.1,659.9 438.0,658.2 438.9,656.6 439.8,655.0 440.7,653.5 441.6,652.0 442.5,650.3 443.3,648.7 444.1,646.9 444.8,645.0 445.5,643.2 446.3,641.4 447.0,639.6 447.7,637.8 448.5,636.0 449.2,634.3 450.0,632.5 450.8,630.7 451.6,628.9 452.5,627.2 453.5,625.5 454.6,623.9 455.7,622.4 456.8,620.7 457.9,619.0 459.1,617.4 460.3,615.9 461.5,614.3 462.6,612.8 463.8,611.3 465.0,609.8 466.2,608.4 467.5,607.2 468.7,605.9 470.0,604.2 471.2,602.5 472.5,600.9 473.7,599.6 475.0,598.1 476.2,596.7 477.5,595.3 478.7,593.9 480.0,592.4 481.2,591.0 482.5,589.5 483.7,588.0 485.0,586.3 486.2,584.7 487.5,583.1 488.7,581.6 490.0,580.1 491.1,578.7 492.1,577.3 493.2,575.9 494.2,574.4 495.2,572.7 496.3,570.9 497.4,569.1 498.4,567.5 499.5,565.8 500.6,564.0 501.6,562.2 502.7,560.5 503.9,558.9 505.0,557.4 506.3,556.0 507.6,554.7 509.0,553.2 510.4,551.8 511.8,550.4 513.2,549.3 514.6,548.2 515.9,547.0 517.3,545.6 518.7,544.1 520.0,542.5 521.2,541.2 522.4,539.7 523.6,538.1 524.8,536.6 526.1,535.2 527.2,533.8 528.4,532.2 529.6,530.5 530.7,528.8 531.8,527.1 532.9,525.4 534.0,523.6 535.0,522.0 536.0,520.8 537.0,519.5 538.0,518.0 538.9,516.4 539.8,514.5 540.7,512.7 541.5,511.1 542.4,509.4 543.3,508.0 544.1,506.5 545.0,504.9 545.7,503.6 546.4,502.1 547.1,500.4 547.8,498.6 548.6,496.8 549.3,494.9 550.0,493.0 550.7,491.0 551.4,489.0 552.1,487.0 552.8,485.1 553.4,483.2 554.1,481.3 554.8,479.5 555.5,477.7 556.2,475.9 556.8,474.1 557.5,472.3 558.2,470.6 559.0,468.9 559.7,467.2 560.4,465.5 561.1,463.7 561.8,461.9 562.5,460.1 563.2,458.3 563.9,456.5 564.6,454.7 565.3,453.0 566.0,451.3 566.8,449.6 567.5,447.7 568.2,445.9 568.8,444.0 569.5,442.1 570.2,440.1 570.9,438.0 571.6,436.1 572.2,434.2 572.9,432.3 573.6,430.4 574.3,428.5 575.0,426.7 575.7,425.0 576.5,423.3 577.2,421.5 577.9,419.7 578.6,418.0 579.3,416.4 580.0,414.9 580.9,413.1 581.8,411.5 582.8,410.0 583.7,408.4 584.7,406.7 585.6,405.0 586.6,403.4 587.5,402.0 588.3,400.4 589.2,398.7 590.0,396.9 590.7,395.2 591.3,393.4 592.0,391.5 592.5,389.6 593.1,387.6 593.7,385.6 594.2,383.8 594.7,382.0 595.3,380.2 595.8,378.4 596.4,376.5 596.9,374.8 597.5,373.0 598.1,371.3 598.8,369.4 599.5,367.5 600.2,365.6 600.9,363.7 601.6,361.8 602.3,359.9 603.1,357.9 603.8,356.0 604.6,354.2 605.4,352.4 606.2,350.7 607.0,349.1 607.8,347.4 608.6,345.7 609.4,344.1 610.2,342.6 611.0,341.0 611.9,339.1 612.8,337.2 613.6,335.3 614.5,333.5 615.5,332.0 616.4,330.6 617.4,328.8 618.4,327.0 619.4,325.1 620.4,323.2 621.4,321.4 622.5,319.6 623.5,317.9 624.7,316.3 625.9,314.7 627.2,313.6 628.6,312.6 630.0,311.5 631.5,310.2 633.1,309.1 634.7,308.3 636.4,307.7 638.2,307.1 639.9,306.3 641.7,305.6 643.4,305.0 645.2,304.4 646.9,304.4 648.7,304.4 650.5,304.1 652.4,303.9 654.2,303.7 656.1,303.5 657.9,304.0 659.8,304.2 661.6,304.0 663.4,304.0 665.1,304.3 667.0,304.4 668.8,304.2 670.6,304.1 672.3,304.1 674.1,304.4 675.8,304.9 677.5,305.3 679.3,305.4 681.1,305.5 682.9,305.9 684.8,306.3 686.6,306.9 688.4,307.2 690.2,307.6 691.9,308.1 693.6,308.5 695.4,308.6 697.1,308.6 698.8,308.9 700.5,309.4 702.1,310.0 703.7,310.3 705.2,311.2 706.8,312.1 708.3,313.1 709.7,314.3 711.2,315.9 712.6,317.1 713.9,318.3 715.1,319.5 716.3,320.9 717.4,322.4 718.5,324.0 719.6,325.4 720.8,326.6 722.0,327.7 723.3,328.6 724.7,329.7 726.0,330.7 727.5,331.6 728.9,332.6 730.5,333.8 732.1,335.1 733.5,336.0 735.1,336.9 736.7,338.1 738.4,339.6 740.1,340.8 741.9,342.2 743.6,343.3 745.3,344.1 746.9,345.0 748.5,346.1 750.0,347.1 751.8,347.8 753.4,348.6 755.0,349.4 756.6,349.9 758.2,350.0 760.0,350.2 761.7,350.0 763.5,349.4 765.4,349.0 767.3,348.3 769.3,347.3 771.2,346.5 773.1,346.0 775.0,345.9 776.7,346.2 778.4,347.0 780.0,348.0 781.7,348.6 783.3,349.5 785.0,350.7 786.7,351.6 788.3,352.3 790.0,352.9 791.9,353.5 793.7,353.9 795.6,354.4 797.4,354.8 799.3,355.3 801.2,355.9 803.1,356.8 805.0,357.4 806.7,358.0 808.5,358.6 810.2,359.3 812.0,360.1 813.8,360.4 815.6,361.0 817.3,361.8 819.1,362.4 820.8,362.8 822.5,363.4 824.2,364.4 825.9,365.5 827.6,366.4 829.2,367.2 830.9,367.8 832.5,368.7 834.1,369.8 835.8,370.7 837.5,371.2 839.3,371.7 841.2,372.2 843.0,372.7 844.9,373.0 846.8,373.3 848.6,373.4 850.6,373.4 852.5,373.7 854.4,373.8 856.4,373.8 858.5,373.8 860.5,373.6 862.6,373.7 864.6,374.1 866.5,374.4 868.3,374.7 870.0,375.0 871.6,375.6 873.1,376.5 874.5,377.8 875.8,378.8 877.1,379.8 878.5,380.7 880.0,381.9 881.4,383.1 882.8,384.5 884.2,385.9 885.7,386.9 887.2,388.0 888.7,389.3 890.3,390.2 891.9,391.3 893.4,392.5 895.0,394.0 896.5,395.3 898.0,396.3 899.6,397.1 901.1,398.2 902.7,399.0 904.2,400.0 905.8,401.4 907.5,402.7 909.1,403.6 910.8,404.2 912.5,404.4 914.4,405.9 916.4,405.8 918.5,404.9 920.5,405.0 922.6,404.9 924.7,405.5 926.8,406.0 928.8,406.0 930.7,406.1 932.5,406.1 934.4,405.3 936.2,403.9 937.9,403.2 939.6,403.4 941.3,403.5 943.1,402.8 945.0,401.6 946.6,401.2 948.3,401.1 950.1,400.4 951.9,398.9 953.7,398.1 955.6,397.9 957.5,397.2 959.3,396.1 961.2,394.7 963.1,394.1 965.0,394.1 966.7,393.7 968.4,392.4 970.2,390.9 971.9,391.0 973.7,390.5 975.4,389.5 977.2,388.0 979.0,387.2 980.7,386.3 982.4,385.8 984.2,385.5 985.8,385.2 987.5,384.9 989.5,384.9 991.5,386.0 993.5,386.3 995.5,386.1 997.4,386.4 999.3,386.8 1001.3,387.3 1003.1,388.1 1005.0,389.1 1006.9,389.8 1008.8,389.7 1010.7,389.9 1012.6,390.6 1014.4,391.3 1016.3,392.2 1018.1,393.4 1020.0,393.6 1021.8,393.3 1023.7,393.8 1025.5,394.4 1027.3,395.0 1029.2,395.5 1031.1,395.3 1033.0,396.1 1035.0,397.0 1036.7,397.3 1038.5,396.8 1040.3,396.7 1042.2,396.7 1044.1,395.6 1046.0,395.9 1047.8,396.4 1049.7,395.7 1051.5,395.8 1053.3,395.8 1055.0,395.5 1057.0,395.1 1058.8,394.1 1060.7,392.8 1062.4,391.8 1064.2,391.4 1066.1,391.7 1068.0,391.6 1070.0,391.0 1071.7,390.8 1073.5,391.8 1075.3,392.2 1077.2,391.4 1079.1,391.4 1081.1,392.0 1083.0,392.6 1085.0,393.4 1086.9,393.9 1088.8,393.8 1090.7,393.6 1092.5,393.6 1094.4,393.7 1096.2,394.2 1098.1,395.6 1099.9,396.6 1101.7,396.6 1103.5,396.8 1105.3,397.4 1107.1,398.2 1108.9,399.6 1110.7,400.3 1112.5,401.0 1114.3,401.2 1116.1,401.8 1117.9,403.9 1119.7,404.5 1121.5,404.6 1123.3,405.1 1125.1,406.1 1126.9,406.8 1128.7,407.2 1130.6,407.6 1132.5,408.6 1134.3,409.4 1136.1,409.3 1138.0,409.2 1139.8,409.8 1141.7,410.2 1143.6,409.7 1145.4,408.8 1147.3,408.6 1149.3,409.0 1151.2,409.5 1153.1,409.3 1155.0,408.5 1156.9,407.9 1158.8,408.0 1160.7,407.9 1162.6,407.4 1164.5,407.1 1166.5,406.8 1168.4,406.3 1170.3,405.7 1172.3,405.4 1174.2,405.6 1176.1,405.5 1178.1,405.4 1180.0,405.5 1181.9,405.4 1183.8,405.8 1185.8,406.2 1187.7,406.3 1189.6,406.4 1191.5,406.7 1193.5,407.4 1195.4,407.6 1197.3,407.7 1199.2,406.9 1201.1,406.9 1203.1,407.9 1205.0,408.7 1206.9,408.6 1208.8,408.3 1210.8,408.6 1212.7,408.3 1214.6,407.9 1216.5,407.6 1218.5,407.4 1220.4,407.4 1222.3,407.8 1224.2,407.4 1226.2,406.5 1228.1,407.8 1230.0,407.4 1231.9,407.1 1233.9,407.0 1235.8,407.7 1237.8,407.9 1239.7,408.3 1241.7,408.4 1243.7,408.8 1245.6,408.4 1247.5,409.1 1249.4,409.6 1251.3,409.0 1253.2,408.3 1255.0,408.6 1256.9,409.5 1258.8,409.6 1260.6,410.5 1262.4,410.7 1264.2,410.9 1266.0,411.2 1267.8,411.7 1269.6,412.3 1271.4,412.4 1273.2,411.9 1275.0,412.0 1276.8,412.4 1278.7,412.6 1280.5,412.3 1282.3,411.3 1284.2,410.8 1286.0,410.8 1287.8,410.9 1289.6,410.5 1291.4,409.8 1293.2,409.5 1295.0,409.6 1297.0,410.2 1299.0,409.6 1301.1,409.2 1303.1,409.1 1305.0,408.9 1307.0,408.7 1308.9,408.7 1310.7,408.3 1312.5,407.5 1314.4,406.6 1316.2,405.8 1317.9,405.1 1319.6,404.0 1321.3,403.0 1323.1,401.9 1325.0,401.4 1326.8,400.5 1328.6,400.1 1330.4,399.3 1332.3,399.0 1334.3,399.6 1336.3,399.0 1338.3,398.3 1340.4,398.3 1342.5,398.1 1344.3,397.4 1346.1,396.6 1348.0,396.1 1349.8,396.7 1351.8,397.9 1353.7,397.6 1355.7,397.4 1357.7,397.3 1359.7,397.0 1361.6,397.1 1363.6,397.3 1365.6,398.1 1367.5,398.3 1369.4,398.1 1371.3,398.4 1373.3,398.0 1375.2,397.1 1377.1,396.7 1379.0,396.6 1381.0,397.1 1382.9,397.4 1384.8,396.6 1386.7,396.2 1388.7,396.4 1390.6,395.9 1392.5,395.8 1394.4,396.1 1396.4,395.7 1398.3,395.4 1400.2,395.3 1402.2,395.2 1404.1,395.4 1406.1,395.3 1408.0,395.0 1409.9,395.3 1411.8,395.9 1413.7,396.4 1415.6,396.8 1417.5,396.9 1419.4,396.5 1421.3,396.2 1423.3,396.3 1425.2,397.3 1427.0,398.1 1428.9,398.4 1430.8,398.1 1432.7,398.1 1434.5,398.8 1436.4,399.8 1438.2,400.0 1440.0,399.7 1441.9,400.2 1443.7,401.0 1445.5,401.4 1447.4,401.8 1449.2,402.4 1451.0,402.7 1452.8,403.2 1454.6,404.5 1456.4,404.8 1458.2,404.9 1460.0,405.3 1461.8,404.3 1463.6,404.3 1465.3,404.8 1467.1,404.6 1468.8,403.9 1470.6,403.3 1472.4,403.1 1474.2,402.9 1476.1,402.2 1478.0,401.8 1480.0,401.6 1481.7,400.9 1483.5,400.0 1485.3,399.5 1487.1,399.3 1489.0,399.5 1490.9,399.3 1492.8,399.1 1494.8,398.9 1496.7,399.5 1498.7,399.0 1500.7,398.3 1502.7,398.1 1504.7,398.3 1506.7,397.7 1508.6,397.8 1510.6,398.0 1512.5,397.6" fill="none" stroke="#fcd80c" stroke-width="4.2" stroke-linejoin="round" stroke-linecap="butt"/>
<path d="M176.5,848.5 178.0,849.5 179.8,850.5 181.5,851.2 183.3,851.8 185.0,852.2 186.9,853.0 188.8,853.2 190.6,853.0 192.5,852.6 193.7,851.9 195.0,850.8 196.2,849.5 197.4,848.0 198.6,846.5 199.8,845.0 201.1,843.7 202.5,842.7 204.2,841.7 205.9,840.8 207.7,839.9 209.5,839.0 211.4,838.0 213.2,836.8 215.0,835.8 216.6,835.2 218.2,834.3 219.8,833.2 221.4,832.3 223.0,831.6 224.5,830.7 226.0,829.5 227.5,828.3 229.0,827.2 230.4,826.1 231.8,824.9 233.2,823.8 234.6,822.8 236.0,822.1 237.5,821.6 239.5,821.6 241.5,821.6 243.6,821.2 245.6,821.0 247.5,821.0 249.1,820.7 250.6,820.3 252.1,819.7 253.5,818.8 255.0,817.7 256.2,816.6 257.5,815.3 258.7,813.9 259.9,812.4 261.1,810.8 262.4,809.2 263.7,807.7 265.0,806.3 266.3,804.8 267.6,803.5 269.0,802.4 270.4,801.3 271.9,800.2 273.3,798.8 274.7,797.1 276.1,795.7 277.5,794.7 279.2,793.8 280.9,793.0 282.6,792.2 284.3,791.4 285.9,790.7 287.5,789.7 288.8,788.9 290.1,787.8 291.3,786.4 292.6,785.2 293.8,784.0 295.0,782.8 296.2,781.5 297.5,780.3 298.9,779.0 300.3,777.4 301.6,775.9 303.0,774.4 304.4,772.8 305.9,771.6 307.5,770.9 309.1,770.8 310.9,770.9 312.7,771.1 314.5,771.0 316.4,771.4 318.2,771.9 320.0,772.6 321.8,773.0 323.6,773.9 325.4,774.6 327.3,775.2 329.0,775.7 330.8,775.8 332.5,775.5 334.0,775.0 335.4,774.5 336.9,773.6 338.3,772.6 339.7,771.3 341.0,769.6 342.4,768.0 343.7,766.5 345.0,765.0 346.3,763.6 347.5,762.0 348.7,760.5 349.9,759.2 351.1,758.1 352.3,757.2 353.6,756.0 355.0,754.9 356.7,754.1 358.4,753.6 360.2,753.0 362.1,752.7 364.0,752.6 365.8,751.9 367.5,751.2 369.3,750.5 371.0,749.8 372.7,749.3 374.3,748.8 375.9,748.1 377.5,747.4 379.5,746.6 381.4,746.1 383.2,745.7 385.0,745.0 386.3,743.9 387.4,742.6 388.5,741.3 389.7,739.9 391.0,738.7 392.5,737.9 394.1,737.3 395.8,736.7 397.7,736.7 399.7,736.6 401.7,736.3 403.7,735.7 405.7,735.5 407.5,736.0 409.4,736.8 411.3,737.6 413.1,738.7 414.9,739.8 416.7,740.9 418.4,741.9 420.0,742.4 421.9,742.8 423.7,743.2 425.5,743.3 427.5,743.5 429.2,743.4 430.9,742.6 432.8,741.8 434.7,741.1 436.6,740.6 438.3,739.9 440.0,739.0 441.4,737.7 442.7,736.2 443.9,734.5 445.1,732.5 446.2,730.8 447.4,729.3 448.7,727.9 450.0,727.2 451.6,727.1 453.2,727.4 454.9,727.5 456.6,728.3 458.3,728.7 460.0,728.5 461.7,728.1 463.4,727.6 465.0,727.2 466.7,726.8 468.4,726.5 470.0,726.2 471.7,726.7 473.4,727.8 475.1,729.2 476.7,730.7 478.4,732.1 480.0,732.5 481.5,732.0 482.9,731.2 484.3,729.7 485.8,727.9 487.2,726.1 488.6,724.9 490.0,723.8 491.9,723.0 493.8,722.6 495.7,722.2 497.5,721.3 498.6,720.3 499.6,719.1 500.5,717.6 501.5,716.0 502.4,714.2 503.4,712.7 504.3,711.1 505.3,709.3 506.4,707.6 507.5,706.2 508.8,704.9 510.1,703.7 511.5,702.3 512.9,701.2 514.3,700.1 515.8,699.1 517.2,697.8 518.6,696.4 520.0,695.1 521.4,693.8 522.8,692.3 524.2,690.7 525.5,689.2 526.9,687.7 528.3,686.4 529.7,685.1 531.1,683.8 532.5,682.7 533.9,681.7 535.3,680.6 536.8,679.6 538.2,678.7 539.7,677.6 541.1,676.5 542.5,675.3 543.8,674.2 545.0,672.7 546.0,671.0 546.9,669.3 547.7,667.5 548.6,665.6 549.3,663.6 550.1,661.5 550.8,659.6 551.5,657.7 552.2,655.9 552.9,654.1 553.6,652.5 554.3,651.0 555.0,649.7 556.2,648.1 557.5,647.1 558.7,646.0 560.0,644.6 561.0,643.3 562.1,642.0 563.3,640.5 564.4,639.3 565.6,638.0 566.9,636.7 568.1,635.5 569.7,634.0 571.3,632.6 572.9,631.6 574.6,630.7 576.2,630.6 577.6,630.8 579.0,631.6 580.4,632.8 581.8,634.3 583.1,636.0 584.4,637.7 585.3,639.3 586.2,641.0 587.0,642.6 587.8,644.3 588.5,646.2 589.3,648.1 590.0,650.1 590.8,652.1 591.6,654.1 592.5,655.9 593.4,657.5 594.4,659.0 595.4,660.4 596.4,662.0 597.4,663.7 598.4,665.4 599.5,667.1 600.5,668.7 601.6,670.4 602.6,672.2 603.5,673.8 604.4,675.4 605.3,677.1 606.1,679.0 607.0,681.0 607.9,682.9 608.8,684.7 609.7,686.6 610.6,688.3 611.6,690.0 612.6,691.5 613.7,693.0 614.8,694.3 616.4,696.1 618.1,696.9 619.9,697.6 621.7,698.3 623.5,699.0 625.3,699.5 627.0,700.2 628.4,701.3 629.8,702.7 631.1,704.1 632.5,705.6 633.8,707.1 635.1,708.3 636.5,709.5 637.8,710.7 639.2,711.7 640.9,712.2 642.5,712.7 644.2,713.1 645.9,713.4 647.6,713.7 649.3,714.4 650.8,715.1 652.3,716.3 653.9,717.7 655.4,718.9 657.0,719.9 658.5,720.8 660.0,721.7 661.5,722.6 663.2,723.8 664.9,725.0 666.6,725.8 668.3,726.5 670.0,727.1 671.7,727.5 673.5,727.6 675.3,727.0 677.1,726.2 678.9,725.6 680.8,725.4 682.4,725.6 684.0,726.2 685.7,727.0 687.4,728.0 689.1,729.1 690.8,729.9 692.4,730.2 694.0,731.0 695.9,731.1 697.8,730.6 699.6,730.1 701.4,729.9 703.1,730.0 704.5,730.5 705.9,731.3 707.3,732.4 708.6,733.7 709.9,735.1 711.1,736.6 712.3,737.9 713.4,739.3 714.4,741.0 715.4,742.9 716.3,744.8 717.2,746.6 718.1,748.4 719.1,750.0 720.0,751.3 721.2,752.6 722.4,753.4 723.7,754.2 725.0,755.2 726.1,756.0 727.3,757.0 728.5,758.2 729.7,759.5 731.0,760.8 732.4,762.1 733.7,763.6 735.0,764.9 736.3,766.2 737.7,767.5 739.0,769.0 740.4,770.5 741.8,771.9 743.2,773.3 744.7,774.8 746.1,776.3 747.5,777.8 748.9,779.1 750.2,780.4 751.6,781.5 752.9,782.6 754.3,783.9 755.7,785.3 757.1,786.5 758.5,787.0 760.0,787.5 761.7,788.1 763.5,788.4 765.2,788.3 767.0,788.2 768.9,788.3 770.7,788.3 772.5,788.8 774.2,789.3 775.8,790.4 777.6,791.4 779.3,792.5 781.0,793.8 782.7,794.8 784.3,795.7 785.9,796.6 787.5,797.1 789.2,797.1 790.9,796.4 792.5,796.0 794.1,795.6 795.8,795.0 797.5,794.5 799.2,794.8 801.0,795.7 802.8,796.7 804.6,796.9 806.4,797.3 808.2,798.1 810.0,798.7 811.8,799.1 813.6,799.7 815.3,800.5 817.1,801.0 818.9,801.3 820.7,801.4 822.5,801.4 824.3,801.4 826.1,801.4 827.9,801.0 829.7,800.6 831.4,799.9 833.2,799.2 835.0,798.7 836.8,797.9 838.6,797.5 840.4,796.8 842.2,795.6 844.0,795.0 845.8,794.6 847.5,794.0 849.2,793.3 850.9,793.1 852.5,793.1 854.2,792.9 855.8,792.5 857.5,791.8 859.1,791.1 860.7,790.0 862.3,788.6 863.9,787.2 865.5,786.0 867.1,784.9 868.6,784.2 870.0,783.9 871.6,783.9 873.1,784.2 874.5,785.1 876.0,786.4 877.5,787.7 878.8,788.6 880.1,789.6 881.4,790.8 882.8,792.3 884.2,793.6 885.6,794.9 887.1,796.1 888.5,797.3 890.0,798.6 891.4,800.0 892.9,801.1 894.4,802.1 896.0,803.1 897.6,804.2 899.1,805.1 900.6,806.2 902.1,807.5 903.6,808.9 905.0,810.4 906.4,811.4 907.7,812.6 908.9,814.0 910.1,815.4 911.3,816.9 912.5,818.5 913.7,820.3 915.0,822.3 916.2,823.9 917.5,825.3 918.7,826.4 919.9,827.8 921.2,829.3 922.4,830.8 923.7,832.3 924.9,833.9 926.2,835.4 927.5,837.0 928.7,838.6 930.0,840.1 931.3,841.4 932.5,842.7 933.9,844.0 935.3,845.1 936.6,846.5 938.0,847.8 939.4,848.8 940.8,849.8 942.2,850.9 943.6,852.3 945.0,853.8 946.3,854.9 947.7,856.0 949.0,857.1 950.4,858.6 951.8,860.2 953.2,861.7 954.6,862.7 956.0,863.8 957.3,864.9 958.7,866.1 960.0,867.4 961.4,868.7 962.8,869.9 964.2,871.3 965.6,872.6 966.9,874.0 968.3,875.4 969.6,876.6 971.1,877.9 972.5,879.1 974.2,880.1 976.0,880.9 977.8,881.9 979.6,882.5 981.4,883.0 983.2,884.1 985.0,884.9 986.6,885.6 988.1,886.2 989.7,886.9 991.3,887.8 992.9,888.8 994.4,889.5 996.0,890.3 997.5,891.3 999.1,892.3 1000.6,892.9 1002.2,894.1 1003.7,896.3 1005.2,898.0 1006.8,899.4 1008.4,900.3 1010.0,900.4 1011.7,900.2 1013.5,900.8 1015.3,900.9 1017.1,900.8 1018.9,900.5 1020.7,900.2 1022.5,900.0 1024.3,899.5 1026.0,899.2 1027.8,898.9 1029.6,898.7 1031.3,898.9 1033.2,899.0 1035.0,898.5 1036.8,898.3 1038.7,899.1 1040.6,900.0 1042.5,900.6 1044.4,900.7 1046.3,900.4 1048.2,899.8 1050.0,900.3 1051.8,900.6 1053.6,900.1 1055.3,899.6 1057.1,898.8 1058.8,898.5 1060.6,898.4 1062.5,897.8 1064.3,897.8 1066.2,897.1 1068.1,896.3 1070.1,896.2 1072.1,895.4 1074.1,895.0 1076.1,894.6 1078.0,893.8 1080.0,893.6 1081.9,893.7 1083.9,893.9 1085.8,894.2 1087.7,895.1 1089.6,895.4 1091.5,895.4 1093.5,896.3 1095.5,897.2 1097.5,897.2 1099.3,898.1 1101.2,899.4 1103.1,899.8 1105.0,900.0 1107.0,900.7 1108.9,901.8 1110.9,902.9 1112.8,903.2 1114.7,903.2 1116.5,903.4 1118.3,904.1 1120.0,904.9 1121.8,905.6 1123.5,906.6 1125.1,907.5 1126.7,908.3 1128.3,909.0 1129.9,909.7 1131.5,910.2 1133.2,911.4 1135.0,913.4 1136.7,914.3 1138.5,914.7 1140.4,915.2 1142.3,915.7 1144.2,916.2 1146.2,916.9 1148.2,917.2 1150.1,918.0 1152.1,918.5 1153.9,919.3 1155.8,920.2 1157.5,920.2 1159.5,920.1 1161.4,920.2 1163.3,920.2 1165.2,920.1 1167.0,919.6 1168.8,919.0 1170.6,918.1 1172.5,917.4 1174.4,917.3 1176.2,917.0 1178.1,915.7 1179.9,914.5 1181.8,914.1 1183.7,914.2 1185.6,914.0 1187.5,913.9 1189.2,914.6 1191.0,915.2 1192.8,915.3 1194.6,915.8 1196.5,916.5 1198.3,917.0 1200.1,916.9 1201.8,917.6 1203.4,918.7 1205.0,919.7 1206.8,919.9 1208.5,919.2 1210.1,918.3 1211.7,917.4 1213.3,916.4 1215.0,915.8 1216.5,915.4 1218.1,914.5 1219.6,913.5 1221.2,912.5 1222.8,911.4 1224.5,910.4 1226.3,909.6 1228.1,908.4 1230.0,907.7 1231.7,907.2 1233.5,906.7 1235.3,906.4 1237.3,906.1 1239.2,905.8 1241.2,905.7 1243.3,905.5 1245.3,905.5 1247.3,906.0 1249.3,905.2 1251.3,905.5 1253.2,904.9 1255.0,904.2 1256.9,903.9 1258.8,903.1 1260.7,902.8 1262.5,902.8 1264.4,901.8 1266.1,900.7 1267.9,899.5 1269.7,898.2 1271.5,898.0 1273.2,897.3 1275.0,896.2 1276.8,895.6 1278.5,895.4 1280.2,894.8 1281.9,894.0 1283.7,894.0 1285.4,894.4 1287.1,893.8 1288.9,892.8 1290.7,891.6 1292.5,890.5 1294.3,890.1 1296.1,890.1 1298.1,890.1 1300.0,890.0 1302.0,889.2 1303.9,888.4 1305.9,887.5 1307.8,886.7 1309.7,886.5 1311.5,885.8 1313.3,885.1 1315.0,884.4 1316.8,883.8 1318.6,883.0 1320.3,882.3 1321.9,881.8 1323.5,881.1 1325.1,879.5 1326.7,878.2 1328.3,876.8 1330.0,875.7 1331.7,875.1 1333.3,874.5 1335.0,873.3 1336.6,873.4 1338.3,872.5 1339.9,871.2 1341.6,870.3 1343.3,869.5 1345.0,868.9 1346.8,868.5 1348.6,868.0 1350.5,867.4 1352.3,867.0 1354.2,866.8 1356.1,866.7 1358.0,866.5 1360.0,866.4 1361.7,866.3 1363.6,866.0 1365.4,865.8 1367.4,865.7 1369.3,865.7 1371.2,865.7 1373.1,865.7 1375.0,865.5 1376.8,865.0 1378.4,864.7 1380.0,865.1 1381.8,865.1 1383.5,864.7 1385.0,864.0 1386.5,863.2 1388.2,862.3 1390.0,862.3 1391.6,862.2 1393.2,861.5 1394.9,860.5 1396.7,860.0 1398.6,860.0 1400.5,859.7 1402.4,859.0 1404.3,858.6 1406.3,858.3 1408.1,857.3 1410.0,856.7 1411.8,856.5 1413.7,856.4 1415.5,856.4 1417.4,856.6 1419.2,856.5 1421.1,856.1 1422.9,856.1 1424.7,856.6 1426.5,857.2 1428.3,856.9 1430.0,856.4 1432.0,856.9 1433.9,857.0 1435.8,856.6 1437.7,856.8 1439.5,857.0 1441.3,856.7 1443.2,856.8 1445.0,856.8 1446.9,856.1 1448.8,856.0 1450.7,855.7 1452.5,854.4 1454.4,854.8 1456.3,854.4 1458.1,852.9 1460.0,852.0 1461.7,851.2 1463.3,850.1 1465.0,849.5 1466.6,849.1 1468.3,848.4 1469.9,847.4 1471.6,846.4 1473.3,846.6 1475.0,846.0 1476.7,845.4 1478.4,844.8 1480.1,844.3 1481.8,843.5 1483.6,842.4 1485.3,841.5 1487.1,841.0 1488.9,841.1 1490.7,841.1 1492.5,840.8 1494.3,840.1 1496.0,839.3 1497.8,838.6 1499.7,837.9 1501.5,837.4 1503.3,837.4 1505.2,837.1 1507.0,836.5 1508.8,836.2 1510.7,835.9 1512.5,835.0" fill="none" stroke="#107e10" stroke-width="4.2" stroke-linejoin="round" stroke-linecap="butt"/>
<path d="M176.5,726.1 178.0,726.7 179.7,727.5 181.4,727.9 183.1,728.4 185.0,728.9 186.7,729.4 188.4,729.7 190.3,729.9 192.1,730.0 194.0,730.2 195.8,730.3 197.5,730.0 199.2,729.5 200.9,729.0 202.5,728.3 204.1,727.4 205.8,726.6 207.5,726.1 209.2,725.8 210.9,725.4 212.7,725.0 214.5,724.8 216.3,724.6 218.1,724.4 220.0,724.0 221.8,723.4 223.7,722.6 225.7,721.8 227.6,721.3 229.6,720.9 231.5,720.3 233.3,720.0 235.0,720.1 236.8,720.5 238.5,721.2 240.1,722.1 241.6,723.1 243.3,724.0 245.0,724.7 246.7,725.3 248.4,726.0 250.2,726.5 252.0,726.6 253.9,727.0 255.7,727.4 257.5,727.7 259.3,727.9 261.1,728.2 262.9,728.5 264.6,728.7 266.4,729.0 268.2,729.3 270.0,729.5 271.8,729.7 273.5,729.9 275.2,730.2 276.9,730.5 278.7,730.5 280.5,730.4 282.5,730.3 284.2,730.2 286.0,730.1 287.9,729.8 289.9,729.4 291.9,729.1 293.9,728.6 296.0,728.3 298.0,727.8 299.9,727.6 301.7,727.3 303.4,727.2 305.0,727.4 306.9,727.8 308.6,728.4 310.2,729.1 311.7,729.8 313.3,730.5 315.0,731.1 316.7,731.9 318.4,732.8 320.1,733.4 321.9,733.8 323.7,734.4 325.6,735.0 327.5,735.3 329.3,735.3 331.2,735.3 333.2,735.1 335.2,734.9 337.2,735.0 339.2,734.6 341.2,734.4 343.1,734.4 345.0,734.5 347.0,735.0 348.9,735.6 350.7,736.3 352.6,737.1 354.4,738.0 356.3,738.8 358.1,739.4 360.0,740.0 361.9,740.5 363.7,740.8 365.6,741.2 367.5,741.4 369.4,741.7 371.2,742.0 373.1,742.3 375.0,742.3 376.9,742.0 378.7,741.3 380.6,740.6 382.5,739.8 384.3,739.3 386.2,738.9 388.1,738.7 390.0,738.8 391.7,739.1 393.4,739.4 395.2,739.8 396.9,740.5 398.7,741.4 400.4,742.4 402.2,743.1 404.0,743.8 405.7,744.3 407.5,744.7 409.2,745.4 411.0,746.1 412.8,746.5 414.5,747.1 416.3,747.8 418.1,748.3 419.8,748.8 421.6,749.2 423.3,749.6 425.0,750.1 426.9,750.5 428.8,750.7 430.6,750.9 432.5,751.1 434.3,751.4 436.2,751.9 438.1,752.3 440.0,752.7 441.9,753.1 443.8,753.3 445.7,753.9 447.6,754.5 449.6,754.8 451.5,755.4 453.5,755.9 455.5,756.1 457.5,756.3 459.3,756.2 461.1,756.1 462.9,755.9 464.7,755.5 466.6,755.1 468.4,754.5 470.3,754.2 472.1,753.9 473.9,753.6 475.7,753.4 477.5,753.3 479.5,753.3 481.4,753.2 483.4,753.6 485.3,753.8 487.2,754.1 489.1,754.4 491.0,754.9 493.0,755.0 495.0,754.8 496.9,754.9 498.9,755.1 500.9,755.2 502.9,755.2 504.9,755.2 506.9,755.1 509.0,755.0 511.0,755.0 513.0,755.1 515.0,755.1 516.8,755.1 518.7,755.2 520.7,755.3 522.6,755.6 524.5,755.8 526.4,755.9 528.3,756.0 530.1,756.0 531.8,755.9 533.5,755.7 535.0,755.4 536.9,754.9 538.6,754.3 540.2,753.8 541.8,752.9 543.4,752.0 545.0,751.1 546.6,750.4 548.3,749.3 550.1,748.3 551.9,747.0 553.5,745.7 555.1,744.6 556.4,743.6 557.5,742.6 558.5,741.1 559.2,739.6 560.0,737.9 560.7,736.6 561.4,735.1 562.3,733.6 563.2,732.0 564.2,730.2 565.2,728.3 566.3,726.4 567.3,724.4 568.3,722.4 569.3,720.5 570.2,718.6 571.0,717.0 571.8,715.3 572.6,713.5 573.4,711.8 574.2,710.1 575.0,708.4 575.8,706.8 576.6,705.2 577.4,703.4 578.1,701.7 578.9,700.0 579.6,698.2 580.3,696.5 581.0,694.6 581.7,692.6 582.4,690.7 583.0,688.8 583.7,686.9 584.3,685.1 584.9,683.2 585.5,681.3 586.1,679.4 586.7,677.6 587.3,675.8 587.8,674.0 588.4,672.2 589.0,670.2 589.5,668.3 590.0,666.4 590.6,664.6 591.1,662.7 591.6,660.9 592.1,659.0 592.5,657.2 593.0,655.3 593.5,653.5 594.0,651.7 594.5,649.9 595.0,648.0 595.5,646.2 596.0,644.4 596.5,642.7 597.0,640.9 597.5,639.2 598.0,637.4 598.5,635.6 599.0,633.8 599.5,631.9 600.0,630.0 600.4,628.3 600.9,626.5 601.3,624.7 601.7,622.9 602.2,621.1 602.6,619.2 603.0,617.4 603.4,615.5 603.9,613.6 604.3,611.7 604.7,609.8 605.1,607.9 605.6,606.0 606.0,604.2 606.4,602.3 606.9,600.4 607.3,598.6 607.7,596.7 608.1,594.8 608.6,592.9 609.0,591.0 609.4,589.1 609.9,587.3 610.3,585.4 610.7,583.5 611.1,581.7 611.6,579.8 612.0,577.9 612.4,576.0 612.9,574.1 613.3,572.3 613.7,570.5 614.1,568.7 614.6,566.9 615.0,565.0 615.4,563.1 615.9,561.2 616.3,559.3 616.7,557.4 617.1,555.5 617.6,553.6 618.0,551.7 618.4,549.8 618.9,548.0 619.3,546.2 619.7,544.4 620.1,542.6 620.6,540.7 621.0,538.9 621.4,537.1 621.9,535.2 622.3,533.4 622.7,531.6 623.1,529.8 623.6,527.9 624.0,526.1 624.4,524.3 624.9,522.4 625.3,520.5 625.7,518.7 626.1,516.8 626.5,515.0 627.0,513.1 627.4,511.3 627.8,509.5 628.2,507.6 628.7,505.7 629.1,503.9 629.6,502.0 630.0,500.1 630.4,498.3 630.8,496.5 631.3,494.7 631.7,492.9 632.1,491.0 632.5,489.2 633.0,487.3 633.4,485.4 633.9,483.5 634.3,481.6 634.7,479.6 635.2,477.7 635.6,475.8 636.1,473.8 636.5,471.9 637.0,470.0 637.5,468.1 637.9,466.2 638.4,464.3 638.8,462.4 639.3,460.5 639.8,458.5 640.2,456.6 640.7,454.6 641.2,452.7 641.7,450.8 642.2,448.9 642.7,447.0 643.2,445.2 643.7,443.4 644.3,441.7 644.8,440.0 645.5,437.9 646.2,436.0 646.9,434.0 647.6,432.2 648.3,430.5 649.1,428.8 649.8,427.0 650.6,425.3 651.4,423.5 652.1,421.8 652.9,420.1 653.8,418.2 654.7,416.3 655.6,414.5 656.5,412.8 657.4,411.0 658.3,409.3 659.2,407.5 660.1,405.7 661.0,403.9 661.8,402.3 662.6,400.6 663.4,399.0 664.2,397.3 665.0,395.6 665.7,393.9 666.5,392.2 667.3,390.6 668.2,389.1 669.0,387.5 669.9,385.8 670.9,384.2 671.8,382.6 672.8,381.0 673.8,379.5 674.8,378.0 675.9,376.5 677.0,375.0 678.2,373.6 679.4,372.2 680.7,371.0 682.0,369.8 683.4,368.6 684.8,367.3 686.1,365.9 687.5,364.6 688.8,363.4 690.2,362.1 691.6,360.9 693.0,359.6 694.4,358.2 695.8,356.9 697.2,355.4 698.6,354.0 700.0,352.8 701.7,351.8 703.3,350.9 704.9,350.2 706.6,349.6 708.3,348.9 710.0,348.1 711.6,347.5 713.3,346.9 715.1,346.2 716.8,345.5 718.5,345.1 720.3,344.5 722.0,343.9 723.7,343.2 725.4,342.7 727.1,342.0 728.8,341.3 730.5,340.7 732.2,339.9 734.0,339.0 735.7,338.2 737.4,337.5 739.2,336.7 741.0,335.9 742.8,335.1 744.6,334.3 746.4,333.4 748.2,332.4 750.0,331.5 751.7,330.6 753.4,329.7 755.0,328.9 756.7,328.2 758.4,327.3 760.0,326.3 761.7,325.6 763.3,324.9 765.0,324.0 766.6,323.3 768.3,322.4 769.9,321.6 771.5,320.9 773.1,320.2 774.8,319.4 776.5,318.7 778.2,318.1 780.0,317.5 781.7,316.9 783.4,316.7 785.2,316.5 787.0,316.2 788.8,315.8 790.7,315.7 792.6,315.8 794.4,315.7 796.3,315.6 798.2,315.4 800.0,315.4 801.8,315.4 803.7,315.3 805.5,315.2 807.3,315.2 809.2,315.1 811.0,314.8 812.8,314.8 814.6,314.9 816.4,314.8 818.2,314.9 820.0,315.1 822.0,315.2 824.0,315.5 826.1,316.0 828.1,316.5 830.0,316.5 832.0,316.6 833.9,317.0 835.7,317.1 837.5,316.9 839.4,316.5 841.3,315.9 843.0,314.9 844.8,313.9 846.5,312.7 848.2,311.6 850.0,311.0 851.8,310.2 853.6,309.5 855.4,308.9 857.2,308.3 859.0,307.5 860.8,306.6 862.5,306.6 864.2,306.1 865.8,304.9 867.4,302.6 869.0,302.1 870.6,301.4 872.5,300.2 874.2,299.7 876.1,299.6 878.1,299.9 880.2,300.4 882.3,300.1 884.4,299.0 886.4,299.7 888.3,300.7 890.0,301.9 891.9,303.8 893.5,304.8 895.1,304.5 896.7,304.6 898.3,305.9 900.0,307.9 901.7,308.5 903.4,309.0 905.2,308.5 907.1,309.1 908.9,309.1 910.7,309.0 912.5,308.8 914.3,309.2 916.1,309.5 917.8,308.1 919.6,306.1 921.3,304.5 923.1,303.9 925.0,304.0 926.8,303.3 928.6,302.4 930.5,301.6 932.4,301.5 934.3,300.8 936.2,299.1 938.1,299.0 940.0,298.6 941.7,297.0 943.4,295.6 945.1,294.9 946.7,294.3 948.4,294.2 950.1,294.3 951.7,293.6 953.4,292.3 955.0,291.3 956.8,291.4 958.6,292.0 960.3,291.6 962.0,290.2 963.8,289.7 965.6,289.8 967.5,289.8 969.3,289.8 971.2,289.7 973.2,289.5 975.2,289.5 977.2,289.4 979.2,287.8 981.2,287.6 983.1,287.8 985.0,288.1 986.9,288.5 988.8,290.3 990.7,290.6 992.6,290.5 994.4,290.7 996.3,291.4 998.1,291.9 1000.0,292.3 1001.9,291.8 1003.8,291.6 1005.7,292.3 1007.6,293.9 1009.5,294.4 1011.4,294.6 1013.2,295.4 1015.0,296.1 1016.9,296.3 1018.7,297.4 1020.4,298.3 1022.2,298.4 1023.9,298.6 1025.7,299.6 1027.5,300.4 1029.3,300.0 1031.0,299.9 1032.8,300.2 1034.6,300.8 1036.4,301.4 1038.2,300.7 1040.0,300.5 1041.8,299.5 1043.6,299.5 1045.3,299.7 1047.1,299.0 1048.9,298.2 1050.7,297.9 1052.5,297.0 1054.3,295.6 1056.1,294.7 1057.9,294.5 1059.7,294.6 1061.5,294.3 1063.4,293.1 1065.4,292.4 1067.5,292.3 1069.2,292.4 1071.0,292.1 1072.9,291.1 1074.8,290.3 1076.7,289.4 1078.7,289.9 1080.7,290.5 1082.8,290.0 1084.8,288.8 1086.8,288.4 1088.7,288.8 1090.6,289.0 1092.5,289.0 1094.4,288.6 1096.3,287.8 1098.1,286.9 1100.0,286.8 1101.8,287.9 1103.6,288.5 1105.4,289.0 1107.2,289.9 1109.0,289.9 1110.7,289.3 1112.5,290.3 1114.5,291.9 1116.5,292.0 1118.5,291.7 1120.4,292.2 1122.4,292.4 1124.3,292.2 1126.2,292.3 1128.1,292.0 1130.0,291.6 1131.6,291.6 1133.3,290.9 1134.9,290.4 1136.5,288.8 1138.1,287.2 1139.6,286.2 1141.2,285.6 1142.8,285.2 1144.3,284.8 1145.9,283.7 1147.5,282.6 1149.4,281.3 1151.2,280.1 1153.0,280.1 1154.8,280.6 1156.7,280.7 1158.6,280.3 1160.5,279.6 1162.5,278.9 1164.2,278.7 1166.0,279.0 1167.9,278.3 1169.7,276.8 1171.6,276.2 1173.6,274.5 1175.5,272.8 1177.4,272.3 1179.4,272.6 1181.3,273.2 1183.1,273.7 1185.0,273.5 1186.9,272.6 1188.7,272.6 1190.6,273.2 1192.4,274.0 1194.2,275.2 1196.0,276.0 1197.8,276.1 1199.6,276.6 1201.4,276.5 1203.2,276.9 1205.0,277.5 1207.0,277.5 1208.9,278.1 1210.9,278.2 1212.8,278.7 1214.7,279.7 1216.6,279.3 1218.6,278.4 1220.5,277.9 1222.5,277.9 1224.3,279.0 1226.1,279.2 1227.9,280.4 1229.7,281.3 1231.6,281.3 1233.4,281.3 1235.3,281.9 1237.1,282.2 1238.9,282.3 1240.7,282.5 1242.5,283.0 1244.5,283.3 1246.4,283.5 1248.4,284.4 1250.3,284.5 1252.2,284.4 1254.1,284.6 1256.1,284.5 1258.0,284.8 1260.0,285.4 1261.8,285.8 1263.7,286.2 1265.6,286.4 1267.5,286.8 1269.4,287.1 1271.3,287.6 1273.2,288.2 1275.0,289.1 1276.8,290.4 1278.4,291.3 1280.0,291.2 1281.8,290.2 1283.5,289.9 1285.0,289.9 1286.5,290.0 1288.2,289.8 1290.0,289.4 1291.6,289.1 1293.3,288.9 1295.1,288.4 1296.9,289.1 1298.8,288.9 1300.8,288.1 1302.7,286.9 1304.6,286.7 1306.5,286.5 1308.3,285.6 1310.0,285.4 1311.8,284.4 1313.5,283.5 1315.1,283.4 1316.7,283.1 1318.3,281.9 1319.9,279.8 1321.5,278.2 1323.2,278.0 1325.0,277.0 1326.7,276.8 1328.4,276.6 1330.2,277.2 1331.9,277.3 1333.8,276.9 1335.6,276.3 1337.5,276.2 1339.4,276.8 1341.2,276.9 1343.1,276.0 1345.0,275.5 1346.8,275.3 1348.7,274.0 1350.5,273.1 1352.4,273.8 1354.2,274.7 1356.1,274.5 1358.0,274.0 1359.9,274.6 1361.8,275.0 1363.7,274.5 1365.6,273.3 1367.5,272.6 1369.4,272.7 1371.3,272.8 1373.2,272.1 1375.1,271.5 1377.0,270.2 1378.9,270.5 1380.8,270.6 1382.7,270.3 1384.7,270.9 1386.6,271.0 1388.6,270.5 1390.5,269.5 1392.5,268.9 1394.4,268.1 1396.4,267.7 1398.4,267.6 1400.4,267.5 1402.4,267.9 1404.4,267.3 1406.4,266.7 1408.4,267.7 1410.4,267.2 1412.4,267.6 1414.4,267.8 1416.3,267.3 1418.2,266.3 1420.0,265.7 1421.9,266.5 1423.8,266.8 1425.7,266.3 1427.5,266.3 1429.3,267.2 1431.0,267.2 1432.8,267.2 1434.6,266.2 1436.4,266.1 1438.2,267.1 1440.0,267.8 1441.8,268.1 1443.7,267.8 1445.6,267.8 1447.5,268.7 1449.4,269.0 1451.3,269.7 1453.3,270.7 1455.1,270.8 1457.0,271.2 1458.9,272.1 1460.7,272.4 1462.5,272.8 1464.5,273.3 1466.4,273.8 1468.3,273.5 1470.1,273.4 1472.0,273.8 1473.8,274.6 1475.8,274.3 1477.8,274.3 1480.0,275.0 1481.7,274.8 1483.4,273.9 1485.1,273.5 1487.0,273.9 1488.8,273.7 1490.7,273.5 1492.7,272.3 1494.6,271.4 1496.6,271.4 1498.6,271.4 1500.6,271.9 1502.6,271.4 1504.6,271.3 1506.6,271.4 1508.6,270.7 1510.6,269.5 1512.5,268.9" fill="none" stroke="#fc1416" stroke-width="4.2" stroke-linejoin="round" stroke-linecap="butt"/>
<path d="M176.5,889.6 176.8,887.8 177.3,886.0 177.9,884.2 178.4,882.5 178.9,880.7 179.5,879.0 180.0,877.0 180.5,875.1 181.1,873.1 181.6,871.2 182.1,869.3 182.7,867.4 183.3,865.5 183.8,863.7 184.4,861.8 185.0,859.9 185.6,858.1 186.3,856.4 186.9,854.6 187.6,852.8 188.3,850.9 189.0,849.1 189.6,847.2 190.3,845.3 191.0,843.4 191.7,841.5 192.4,839.6 193.1,837.7 193.7,836.0 194.4,834.2 195.0,832.5 195.7,830.5 196.4,828.5 197.1,826.7 197.7,824.8 198.3,823.0 199.0,821.2 199.6,819.3 200.3,817.5 201.0,815.8 201.7,814.2 202.5,812.5 203.2,810.9 204.0,809.2 204.8,807.3 205.6,805.5 206.4,803.7 207.3,802.0 208.1,800.3 209.0,798.6 209.9,796.9 210.7,795.5 211.6,794.1 212.5,792.7 213.7,791.0 215.0,789.6 216.3,788.6 217.5,787.8 218.8,786.9 220.0,785.4 221.0,783.6 222.0,781.9 223.0,780.3 224.0,778.6 224.9,777.0 225.9,775.3 226.8,773.5 227.8,771.7 228.8,769.9 229.6,768.3 230.5,766.7 231.3,764.7 232.1,762.7 232.9,760.7 233.8,759.1 234.6,757.6 235.5,756.0 236.5,754.7 237.5,753.7 239.3,753.0 241.2,752.9 243.1,752.8 245.0,752.2 246.2,751.3 247.3,750.2 248.5,748.9 249.7,747.6 250.8,746.3 251.9,744.9 253.0,743.5 254.0,741.9 255.0,740.2 255.9,738.6 256.7,736.9 257.5,735.1 258.2,733.2 258.9,731.3 259.6,729.4 260.3,727.6 261.0,725.9 261.7,724.3 262.5,722.7 263.5,720.9 264.5,719.2 265.6,717.6 266.7,716.2 267.7,714.7 268.9,713.1 270.0,711.3 270.9,709.7 271.9,708.0 272.9,706.3 273.8,704.8 274.8,703.3 275.8,701.7 276.9,700.1 277.9,698.4 278.9,697.0 280.0,696.1 281.5,695.2 283.0,694.6 284.5,694.2 286.0,693.6 287.5,692.6 288.5,691.5 289.6,690.1 290.6,688.7 291.6,687.1 292.6,685.4 293.6,683.7 294.5,681.9 295.5,680.2 296.5,678.6 297.5,677.2 298.5,675.7 299.5,674.0 300.4,672.2 301.4,670.4 302.4,668.5 303.4,666.8 304.4,665.3 305.4,664.1 306.4,663.2 307.5,662.6 309.3,662.4 311.1,663.1 313.0,663.8 315.0,663.8 316.6,663.6 318.3,663.1 320.0,662.1 321.7,661.6 323.4,661.4 325.0,661.3 326.8,661.4 328.6,661.9 330.4,662.6 332.2,663.0 333.8,662.6 334.8,661.7 335.8,660.6 336.7,659.2 337.5,657.4 338.3,655.5 339.1,653.4 339.9,651.1 340.7,648.7 341.6,646.4 342.5,644.3 343.3,642.7 344.1,641.2 344.9,639.5 345.8,637.6 346.6,635.6 347.5,633.5 348.3,631.3 349.2,629.4 350.1,627.5 351.0,625.7 352.0,624.0 353.0,622.7 354.0,621.8 355.0,621.3 356.6,621.0 358.2,621.2 359.9,622.0 361.6,623.1 363.3,624.1 365.0,624.8 366.7,624.9 368.3,624.8 370.0,624.9 371.7,625.3 373.4,625.5 375.0,625.7 376.7,625.9 378.4,626.8 380.2,627.7 381.8,628.6 383.5,629.4 385.0,629.7 386.6,629.0 388.1,627.4 389.5,625.5 390.9,623.9 392.5,623.3 394.1,623.3 395.7,623.9 397.4,624.9 399.2,625.9 400.9,626.8 402.5,627.3 404.5,627.8 406.4,628.4 408.2,628.9 410.0,629.7 411.2,630.7 412.2,632.1 413.2,633.7 414.2,635.6 415.2,637.5 416.3,638.8 417.5,640.0 419.0,641.2 420.6,642.6 422.3,643.7 424.0,644.6 425.8,645.6 427.5,646.2 429.1,646.4 430.8,646.5 432.5,646.2 434.2,645.6 435.9,645.1 437.5,644.4 439.0,643.4 440.4,641.9 441.9,640.2 443.3,638.5 444.7,636.8 446.1,635.3 447.4,634.3 448.8,633.7 450.1,633.9 451.3,634.8 452.5,636.1 453.7,637.6 454.9,639.1 456.2,640.9 457.5,642.5 458.8,643.6 460.2,644.7 461.7,645.9 463.1,647.3 464.6,648.6 466.0,650.0 467.4,651.1 468.8,652.4 469.7,653.7 470.7,655.1 471.5,656.8 472.4,658.6 473.3,660.4 474.1,662.3 474.9,664.1 475.7,665.9 476.6,667.7 477.4,669.3 478.2,670.9 479.1,672.4 480.0,673.7 481.5,675.0 483.0,676.0 484.5,676.7 486.0,677.5 487.5,678.5 488.8,680.1 490.0,681.8 491.2,683.4 492.4,685.0 493.6,686.4 495.0,687.5 496.5,688.4 498.2,689.2 500.0,689.9 501.7,691.2 503.4,692.5 505.0,693.9 506.1,695.3 507.2,696.8 508.2,698.3 509.1,699.9 510.0,701.6 511.0,703.1 511.9,704.7 512.9,706.4 513.9,708.1 515.0,709.9 516.2,711.6 517.3,713.1 518.6,714.7 519.8,716.2 521.1,717.7 522.4,719.1 523.7,720.6 525.0,722.3 526.2,723.8 527.5,725.3 528.8,726.9 530.1,728.4 531.4,729.9 532.8,731.3 534.1,732.8 535.4,734.3 536.7,735.9 537.9,737.4 539.0,738.8 540.0,740.1 541.1,741.7 542.0,743.1 542.9,744.5 543.9,745.6 545.0,746.5 546.7,746.7 548.6,746.0 550.6,745.0 552.5,744.7 554.0,745.1 555.5,746.0 557.0,747.0 558.5,748.1 560.0,749.2 561.3,750.2 562.5,751.6 563.8,753.0 565.1,754.5 566.4,756.3 567.7,758.1 569.0,759.8 570.2,760.9 571.6,762.0 573.0,762.9 574.4,763.8 575.8,764.7 577.1,765.9 578.3,767.5 579.1,768.9 579.9,770.4 580.6,772.1 581.3,773.8 582.0,775.5 582.6,777.4 583.3,779.2 584.0,781.1 584.7,782.8 585.5,784.5 586.4,785.9 587.5,787.5 588.8,789.0 590.1,790.4 591.4,791.8 592.8,792.8 594.1,793.7 595.4,794.8 596.5,796.0 597.8,797.4 598.9,798.4 600.0,799.6 601.1,800.9 602.5,802.4 603.7,803.7 604.9,805.1 606.2,806.7 607.6,808.2 609.1,809.5 610.6,810.5 612.0,811.4 613.5,812.1 615.0,812.5 616.7,812.6 618.5,812.3 620.3,811.6 622.1,810.3 623.9,809.2 625.7,808.2 627.5,807.4 629.3,807.3 631.0,807.6 632.8,808.1 634.6,808.7 636.4,809.1 638.2,809.2 640.0,809.2 641.8,809.2 643.5,808.9 645.3,808.1 647.0,807.3 648.8,806.5 650.6,806.3 652.5,805.9 654.3,806.1 656.3,806.7 658.3,807.1 660.3,807.7 662.3,808.3 664.4,808.9 666.3,809.5 668.2,809.9 670.0,810.1 672.0,809.6 674.0,808.7 675.8,807.9 677.6,807.2 679.4,806.6 681.2,806.1 682.9,806.5 684.5,807.3 686.0,808.0 687.6,808.9 689.2,809.8 690.8,810.6 692.5,811.1 694.3,811.9 696.1,812.1 698.0,812.5 699.8,813.3 701.6,813.9 703.4,814.4 705.0,815.1 706.4,816.0 707.7,817.2 709.0,818.6 710.2,820.1 711.3,821.8 712.5,823.4 713.7,824.8 715.0,826.2 716.2,827.4 717.4,828.6 718.6,830.0 719.8,831.4 721.1,833.0 722.3,834.7 723.6,836.5 724.9,838.3 726.2,839.9 727.5,841.3 728.8,842.7 730.2,844.1 731.6,845.2 733.0,846.2 734.4,847.1 735.9,848.4 737.3,849.4 738.6,850.3 740.0,851.1 741.7,852.2 743.4,853.6 745.0,854.9 746.7,855.9 748.3,856.9 750.0,857.8 751.7,858.5 753.4,859.1 755.1,860.1 756.8,860.9 758.4,861.3 760.0,861.5 761.5,861.2 762.9,860.4 764.3,859.0 765.8,857.8 767.5,857.4 769.1,857.7 771.0,858.3 773.0,858.5 775.0,858.3 777.2,858.9 779.3,859.4 781.3,859.6 783.2,859.8 785.0,859.8 786.8,859.2 788.5,858.5 790.0,857.7 791.6,856.8 793.2,856.0 795.0,855.4 796.7,855.3 798.5,855.1 800.4,855.4 802.4,855.6 804.3,855.8 806.3,855.7 808.2,856.1 810.0,856.2 811.8,856.2 813.7,856.3 815.5,856.5 817.2,857.1 819.0,857.5 820.7,857.7 822.5,857.4 824.3,856.9 826.1,856.6 827.8,856.2 829.6,855.7 831.3,855.1 833.1,854.3 835.0,853.6 836.8,853.5 838.7,853.0 840.6,852.3 842.6,851.6 844.5,851.7 846.4,851.3 848.3,850.6 850.0,850.5 851.8,850.7 853.5,850.6 855.1,850.6 856.8,850.6 858.4,850.4 860.0,849.9 861.7,849.2 863.4,848.6 865.1,847.7 866.7,846.7 868.4,846.2 870.0,846.4 871.7,846.9 873.3,847.6 875.0,848.9 876.6,850.4 878.3,851.9 880.0,852.8 881.5,853.4 883.0,854.3 884.5,855.5 886.1,856.7 887.6,857.8 889.2,858.9 890.8,860.0 892.5,861.1 894.1,861.9 895.7,862.9 897.4,863.9 899.1,865.0 900.8,865.6 902.5,866.3 904.2,867.1 905.9,867.9 907.5,868.5 909.3,869.3 911.1,870.2 912.9,871.0 914.7,871.0 916.4,871.3 918.2,872.1 920.0,872.6 921.8,872.9 923.6,873.4 925.4,873.7 927.1,874.0 928.9,874.5 930.7,874.9 932.5,875.0 934.3,874.7 936.1,874.3 937.8,874.1 939.6,873.6 941.4,872.6 943.2,871.9 945.0,871.1 946.6,870.4 948.3,869.8 950.0,869.1 951.7,868.5 953.4,868.0 955.1,867.4 956.7,866.5 958.4,865.5 960.0,865.0 961.8,864.4 963.7,863.6 965.4,862.9 967.2,862.0 969.0,861.4 970.7,860.8 972.5,860.1 974.3,859.1 976.1,858.1 977.8,857.1 979.6,855.9 981.4,855.4 983.2,854.7 985.0,853.9 986.8,853.2 988.5,853.0 990.3,852.4 992.1,852.5 993.9,853.1 995.7,853.2 997.5,853.3 999.3,853.8 1001.1,854.6 1002.8,855.4 1004.6,855.9 1006.4,856.2 1008.2,856.3 1010.0,856.2 1011.8,856.1 1013.7,856.1 1015.5,855.7 1017.4,854.8 1019.3,854.3 1021.2,853.6 1023.1,853.0 1025.0,852.4 1026.9,852.0 1028.7,851.9 1030.6,851.1 1032.4,851.2 1034.3,850.9 1036.2,850.4 1038.1,850.0 1040.0,849.7 1041.9,849.8 1043.8,849.9 1045.7,849.8 1047.7,849.9 1049.7,850.0 1051.6,850.3 1053.6,850.2 1055.6,850.3 1057.5,849.9 1059.3,849.4 1061.0,849.1 1062.8,848.4 1064.6,848.1 1066.4,847.7 1068.1,847.1 1069.9,846.0 1071.6,845.2 1073.3,845.1 1075.0,845.1 1076.9,845.0 1078.8,845.0 1080.7,845.8 1082.6,846.5 1084.4,847.0 1086.3,847.6 1088.1,848.5 1090.0,849.2 1091.7,849.7 1093.3,850.2 1094.9,850.9 1096.5,851.6 1098.2,852.3 1099.8,853.0 1101.5,853.9 1103.2,854.7 1105.0,855.4 1106.7,855.8 1108.5,856.0 1110.3,856.4 1112.2,856.5 1114.0,856.9 1115.9,857.5 1117.8,857.8 1119.7,858.0 1121.5,858.5 1123.3,859.0 1125.0,858.9 1127.0,859.0 1128.9,859.4 1130.7,859.9 1132.6,860.5 1134.4,861.2 1136.2,861.8 1138.1,862.3 1140.0,862.7 1141.9,862.9 1143.8,863.4 1145.8,863.9 1147.8,864.3 1149.8,864.7 1151.8,865.3 1153.8,865.0 1155.7,864.8 1157.5,864.6 1159.3,864.2 1161.0,863.9 1162.7,863.3 1164.4,862.2 1166.0,861.0 1167.6,859.8 1169.2,858.2 1170.9,856.8 1172.5,855.6 1174.0,854.4 1175.5,853.1 1177.0,852.3 1178.5,850.9 1180.0,849.6 1181.5,848.4 1182.9,847.4 1184.5,846.1 1186.0,845.0 1187.5,844.1 1189.1,843.4 1190.8,842.8 1192.5,842.0 1194.2,840.4 1195.9,839.1 1197.6,838.3 1199.3,837.8 1200.9,837.5 1202.5,836.8 1204.0,835.7 1205.4,834.3 1206.8,833.3 1208.2,832.3 1209.6,831.1 1211.0,829.7 1212.3,828.6 1213.6,827.5 1215.0,826.3 1216.4,825.3 1217.8,824.1 1219.1,822.5 1220.4,820.5 1221.8,818.9 1223.1,817.6 1224.5,816.7 1226.0,815.7 1227.5,814.7 1229.0,813.7 1230.6,812.4 1232.3,811.1 1234.0,810.0 1235.7,808.9 1237.4,808.8 1239.1,808.0 1240.8,806.7 1242.5,806.1 1244.2,805.9 1245.9,805.4 1247.6,804.7 1249.3,804.0 1251.0,803.2 1252.7,802.7 1254.4,801.6 1256.0,800.6 1257.5,799.8 1259.0,798.8 1260.5,797.4 1261.9,796.1 1263.3,794.7 1264.7,793.3 1266.0,791.8 1267.3,790.5 1268.7,789.2 1270.0,787.9 1271.4,786.2 1272.8,785.2 1274.2,784.4 1275.6,783.3 1277.0,782.3 1278.5,781.1 1280.0,779.8 1281.7,778.7 1283.4,778.5 1285.2,777.6 1287.1,776.8 1288.9,776.4 1290.7,774.7 1292.5,773.2 1294.1,772.6 1295.7,772.3 1297.3,771.6 1298.9,770.1 1300.5,768.4 1302.0,767.5 1303.5,767.0 1305.0,766.3 1306.5,765.3 1308.0,764.3 1309.4,763.2 1310.9,762.2 1312.3,761.2 1313.6,759.9 1315.0,758.6 1316.2,757.4 1317.3,756.1 1318.3,754.7 1319.4,753.2 1320.4,751.6 1321.5,750.1 1322.6,748.9 1323.8,747.8 1325.0,746.7 1326.2,745.3 1327.5,743.8 1328.8,742.5 1330.1,741.2 1331.5,739.9 1332.9,738.5 1334.3,737.4 1335.7,736.1 1337.1,735.0 1338.6,734.4 1340.0,732.9 1341.6,731.3 1343.3,730.2 1345.0,729.3 1346.7,728.2 1348.4,727.1 1350.0,726.3 1351.7,725.3 1353.4,724.8 1355.0,724.0 1356.8,723.0 1358.6,722.4 1360.4,721.5 1362.1,720.5 1363.9,719.4 1365.7,718.1 1367.5,717.2 1369.1,716.8 1370.8,716.2 1372.5,715.1 1374.3,714.7 1376.0,714.0 1377.7,713.1 1379.4,712.0 1381.0,710.7 1382.5,709.2 1383.9,708.0 1385.2,706.8 1386.4,705.6 1387.6,704.4 1388.8,702.8 1390.0,701.0 1391.2,699.2 1392.4,697.5 1393.7,695.7 1395.0,694.8 1396.4,693.7 1397.8,692.5 1399.3,691.5 1400.7,690.4 1402.3,688.7 1403.8,687.1 1405.3,685.9 1406.9,685.1 1408.4,684.6 1410.0,684.1 1411.6,683.2 1413.2,682.1 1414.9,681.2 1416.5,680.6 1418.2,680.3 1419.9,679.8 1421.6,679.5 1423.3,678.7 1425.0,677.7 1426.7,676.6 1428.5,675.6 1430.2,674.8 1432.0,673.9 1433.8,673.0 1435.6,672.2 1437.3,672.0 1439.1,670.7 1440.8,669.9 1442.5,669.3 1444.2,668.0 1446.0,666.6 1447.7,665.4 1449.4,664.5 1451.0,663.8 1452.7,662.8 1454.3,662.2 1455.9,661.4 1457.5,660.7 1458.8,659.6 1460.1,658.2 1461.4,656.7 1462.6,655.2 1463.9,653.7 1465.1,652.1 1466.3,650.5 1467.6,648.8 1468.8,647.3 1470.0,646.0 1471.3,644.8 1472.5,644.0 1474.1,642.8 1475.6,641.4 1477.2,640.0 1478.7,638.9 1480.3,637.9 1481.8,636.8 1483.4,635.5 1485.0,634.5 1486.8,633.9 1488.5,633.5 1490.3,632.6 1492.1,631.5 1493.8,630.2 1495.7,629.3 1497.5,628.9 1499.1,628.2 1500.8,627.1 1502.4,625.8 1504.1,624.6 1505.8,623.9 1507.5,622.9 1509.1,621.6 1510.8,620.3 1512.5,619.7" fill="none" stroke="#1818fa" stroke-width="4.2" stroke-linejoin="round" stroke-linecap="butt"/>
<path d="M176.5,406.4 177.3,404.6 178.3,402.9 179.4,401.2 180.4,399.5 181.4,397.9 182.5,396.1 183.5,394.6 184.6,393.6 185.7,392.5 186.8,391.3 187.8,389.6 188.8,387.6 189.4,386.1 190.0,384.5 190.6,382.8 191.2,380.9 191.7,379.0 192.2,376.9 192.8,374.9 193.3,372.9 193.8,371.0 194.4,369.0 195.0,367.2 195.6,365.4 196.3,363.4 196.9,361.4 197.5,359.3 198.2,357.2 198.9,355.2 199.6,353.3 200.3,351.5 201.0,350.0 201.7,348.6 202.5,347.5 203.7,346.2 204.9,345.3 206.2,344.7 207.5,344.1 209.2,343.3 210.9,342.8 212.5,343.0 213.5,343.8 214.3,345.2 215.1,347.1 215.9,349.1 216.7,351.1 217.6,352.7 218.8,353.7 220.4,354.2 222.2,354.2 224.1,354.1 226.0,353.7 227.5,353.6 228.9,354.6 230.1,355.6 231.2,356.0 232.5,355.2 233.7,353.8 235.0,352.4 236.2,352.0 237.1,352.6 237.9,353.9 238.7,355.7 239.5,357.7 240.3,360.0 241.1,362.2 241.9,364.3 242.8,366.2 243.8,367.7 245.2,369.3 246.8,370.7 248.4,371.6 250.0,372.1 251.5,372.1 253.1,371.6 254.7,370.7 256.2,369.5 257.5,367.9 258.2,366.6 258.9,364.9 259.4,363.1 259.9,361.1 260.3,359.1 260.7,357.0 261.1,354.9 261.5,352.8 261.9,350.8 262.4,348.9 263.0,347.4 263.8,346.1 265.2,344.7 266.7,344.1 268.3,343.4 270.0,342.3 271.2,341.1 272.4,339.6 273.7,338.0 275.0,336.3 276.3,334.6 277.6,333.2 278.8,332.4 280.0,332.2 281.3,332.9 282.6,334.5 283.8,336.4 285.0,338.5 286.2,340.2 287.5,341.1 289.0,340.7 290.4,339.3 291.9,337.7 293.5,336.0 295.0,335.0 296.5,335.1 298.1,336.1 299.7,337.4 301.2,338.3 302.5,338.6 303.7,337.7 304.7,335.8 305.6,333.7 306.5,332.0 307.5,331.2 308.5,331.4 309.5,332.5 310.5,334.2 311.5,335.9 312.5,337.6 313.3,339.0 314.1,340.5 314.9,342.3 315.8,344.3 316.6,346.1 317.4,347.8 318.3,349.5 319.1,351.0 320.0,352.4 321.2,354.1 322.5,355.4 323.8,356.7 325.0,358.2 326.2,360.0 327.1,361.5 327.8,363.5 328.6,365.8 329.3,368.2 330.0,370.5 330.7,372.7 331.5,374.6 332.2,376.1 333.0,377.0 333.8,377.3 334.6,377.1 335.4,376.1 336.3,374.5 337.2,372.6 338.0,370.4 338.9,368.1 339.8,365.7 340.7,363.5 341.6,361.6 342.5,360.1 343.8,358.5 345.1,357.2 346.4,355.8 347.6,354.3 348.8,352.5 349.4,351.0 350.0,349.1 350.6,347.0 351.1,344.6 351.5,342.2 352.0,339.8 352.5,337.6 353.0,335.7 353.6,334.1 354.3,333.1 355.0,332.6 356.1,332.9 357.3,333.8 358.6,335.1 360.0,336.4 361.3,338.2 362.5,339.9 363.6,341.5 364.7,343.1 365.7,344.7 366.7,346.4 367.8,348.1 368.9,349.6 370.0,351.0 371.5,352.5 373.0,353.6 374.6,354.7 376.1,356.0 377.5,357.5 378.5,359.2 379.5,361.2 380.3,363.3 381.2,365.5 382.1,367.3 383.0,369.0 383.9,370.3 385.0,371.0 386.4,371.0 387.9,370.1 389.5,368.8 391.0,367.8 392.5,367.6 393.8,368.1 395.0,369.4 396.2,371.2 397.4,373.1 398.7,374.7 400.0,375.9 401.4,376.8 403.0,377.6 404.5,378.2 406.1,378.7 407.5,379.6 408.6,380.9 409.5,382.5 410.5,384.1 411.4,385.9 412.3,387.7 413.2,389.5 414.1,391.3 415.1,392.9 416.2,393.8 417.9,395.0 419.7,396.2 421.5,397.1 423.3,397.6 425.0,397.5 426.4,396.7 427.6,395.4 428.8,393.6 430.0,391.6 431.2,389.9 432.5,388.6 434.0,387.4 435.5,386.6 437.1,385.5 438.6,384.2 440.0,382.5 440.8,381.4 441.5,379.9 442.1,378.1 442.8,376.0 443.4,373.8 444.0,371.5 444.6,369.1 445.2,366.7 445.8,364.4 446.4,362.2 447.1,360.3 447.7,358.7 448.5,357.5 449.2,356.7 450.0,356.4 451.1,356.5 452.3,357.2 453.6,358.4 454.9,360.1 456.2,361.8 457.5,363.6 458.7,365.2 460.0,366.5 461.5,367.5 463.0,368.4 464.5,369.5 465.9,370.7 467.4,372.0 468.8,373.6 469.6,375.0 470.4,376.7 471.1,378.6 471.9,380.8 472.6,383.0 473.3,385.3 474.0,387.6 474.7,389.9 475.4,392.1 476.1,394.2 476.9,396.1 477.6,397.7 478.4,399.0 479.2,400.0 480.0,400.5 481.4,400.1 482.8,398.5 484.3,396.5 485.8,394.5 487.3,393.0 488.8,392.4 490.0,393.1 491.3,394.5 492.5,396.1 493.7,398.0 495.0,399.7 496.2,401.2 497.5,401.7 498.9,401.0 500.4,399.6 501.8,397.7 503.3,395.9 504.7,394.4 506.2,393.8 507.6,394.3 508.9,395.5 510.3,397.1 511.6,398.5 513.0,400.3 514.5,402.2 515.9,404.1 517.5,405.3 519.2,406.0 521.0,406.6 522.9,406.6 524.8,406.1 526.6,405.9 528.4,405.8 530.0,405.6 532.0,404.9 533.9,404.1 535.7,403.3 537.5,402.9 539.4,403.5 541.4,404.4 543.2,405.0 545.0,404.7 545.7,404.1 546.4,403.2 547.0,401.9 547.5,400.4 548.0,398.7 548.5,396.6 549.0,394.4 549.4,392.1 549.8,389.8 550.3,387.3 550.7,384.9 551.2,382.6 551.7,380.4 552.2,378.3 552.8,376.4 553.5,374.8 554.2,373.4 555.0,372.5 556.5,371.5 558.2,371.1 559.9,371.1 561.7,371.0 563.4,370.7 565.0,369.9 566.4,368.6 567.7,367.0 569.0,365.3 570.2,363.7 571.4,362.1 572.7,360.8 573.8,359.8 575.0,359.5 576.0,360.0 577.0,361.0 578.0,362.3 578.9,363.9 579.9,365.6 580.8,367.6 581.7,369.8 582.6,371.9 583.4,374.0 584.2,375.9 585.0,377.6 585.9,379.6 586.8,381.3 587.5,383.0 588.3,384.6 589.1,386.1 590.0,387.8 590.9,389.3 591.9,390.9 592.9,392.5 594.0,394.0 595.1,395.8 596.1,397.4 597.1,398.7 598.1,400.2 599.0,401.9 599.9,403.6 600.7,405.3 601.5,406.9 602.3,408.5 603.2,410.1 604.2,411.7 605.1,413.1 606.0,414.9 607.0,416.8 607.9,418.9 609.0,421.1 610.0,423.0 611.1,424.6 612.2,425.8 613.3,426.8 614.4,427.4 616.0,427.5 617.6,427.3 619.3,426.9 620.9,426.4 622.5,425.9 624.0,425.2 625.3,424.2 626.7,423.2 628.1,422.3 629.6,421.8 631.2,422.4 632.9,423.5 634.6,424.8 636.4,426.2 638.1,427.2 639.7,427.5 641.1,426.8 642.4,425.3 643.7,423.5 645.0,421.5 646.2,419.8 647.5,418.2 648.9,416.9 650.3,415.7 651.6,414.4 653.0,413.3 654.5,412.5 656.0,411.8 657.5,410.9 659.0,409.8 660.7,408.7 662.5,408.1 664.4,407.8 666.3,407.5 668.1,406.8 669.8,406.0 671.2,404.7 672.2,403.5 673.0,402.2 673.7,400.6 674.4,398.9 674.9,397.1 675.4,395.2 675.9,393.4 676.3,391.6 676.8,389.8 677.3,388.2 677.8,386.3 678.2,384.4 678.5,382.4 678.8,380.4 679.1,378.5 679.5,376.6 680.0,374.8 680.6,373.2 681.4,371.7 682.5,370.1 683.9,368.9 685.4,367.8 687.0,366.6 688.5,365.6 690.1,364.5 691.5,363.3 692.9,361.9 694.3,360.1 695.6,358.5 696.9,357.2 698.2,356.0 699.6,354.9 701.0,353.8 702.5,352.7 704.0,351.9 705.4,351.1 706.8,350.9 708.1,351.5 709.3,352.7 710.6,354.1 711.7,355.7 712.9,357.4 713.9,359.0 714.7,360.4 715.3,361.9 715.9,363.8 716.5,365.7 717.0,367.7 717.5,369.7 718.1,371.6 718.7,373.6 719.3,375.4 720.0,377.1 720.8,378.9 721.6,380.7 722.5,382.6 723.4,384.4 724.3,386.2 725.2,387.9 726.2,389.5 727.1,390.9 728.1,391.8 729.6,392.8 731.2,393.6 732.7,394.5 734.2,395.7 735.3,397.1 736.3,398.7 737.2,400.3 738.1,401.9 739.1,403.6 740.3,405.2 741.5,407.0 742.8,408.6 744.1,409.9 745.6,410.9 747.0,412.0 748.5,413.0 750.0,413.7 751.6,414.2 753.4,414.1 755.2,414.1 756.9,414.1 758.5,413.4 760.0,412.6 761.1,411.6 762.0,410.2 762.8,408.6 763.5,406.5 764.2,404.3 764.9,402.0 765.7,399.8 766.5,397.8 767.5,396.2 768.7,394.9 770.1,393.6 771.5,392.3 772.9,391.1 774.4,389.9 776.0,388.6 777.5,387.7 779.1,387.2 780.9,387.2 782.6,387.4 784.3,387.5 786.0,387.3 787.5,386.6 788.5,385.5 789.4,384.2 790.3,382.4 791.0,380.4 791.8,378.4 792.5,376.5 793.2,374.5 793.9,372.5 794.7,370.5 795.5,368.8 796.5,367.4 797.5,366.2 798.9,365.0 800.3,363.8 801.9,362.6 803.5,361.5 805.1,360.6 806.7,360.0 808.4,359.8 810.0,359.0 811.8,358.0 813.6,357.4 815.4,356.7 817.3,356.2 819.1,355.5 820.8,354.4 822.5,353.3 823.8,352.3 825.0,351.1 826.1,349.8 827.3,348.5 828.4,346.8 829.5,345.1 830.6,343.5 831.7,341.8 832.8,340.4 833.9,338.9 835.0,337.5 836.2,335.9 837.5,334.2 838.7,332.4 840.0,330.9 841.3,329.3 842.5,327.7 843.8,326.1 845.0,324.6 846.3,323.4 847.5,322.7 849.4,322.3 851.3,321.9 853.1,321.6 855.0,321.1 856.3,320.2 857.6,318.7 858.8,316.7 860.1,314.6 861.4,312.4 862.6,310.5 863.9,308.9 865.1,307.8 866.2,307.4 867.4,307.8 868.6,308.9 869.7,310.4 870.8,312.3 871.9,314.3 872.9,316.4 874.0,318.5 875.0,320.5 875.8,322.0 876.6,323.7 877.4,325.4 878.1,327.1 878.8,329.0 879.5,330.9 880.3,332.8 881.0,334.8 881.8,336.7 882.5,338.6 883.3,340.4 884.1,342.1 885.0,343.8 886.0,345.7 887.0,347.2 888.1,348.7 889.2,350.0 890.3,351.3 891.4,352.5 892.6,353.7 893.8,355.0 895.0,356.1 896.4,357.4 898.0,358.5 899.6,359.4 901.2,360.3 902.8,361.2 904.4,362.3 906.0,363.6 907.5,365.0 908.7,366.2 909.9,367.6 911.1,369.2 912.2,370.8 913.3,372.4 914.4,373.9 915.5,375.3 916.6,376.7 917.7,378.2 918.9,379.8 920.0,381.4 921.4,383.1 922.8,384.8 924.2,386.5 925.6,388.2 927.0,389.6 928.4,390.6 929.9,391.4 931.2,392.0 933.0,392.3 934.7,391.9 936.5,390.8 938.2,389.4 940.0,387.9 941.1,386.8 942.2,385.5 943.3,383.9 944.5,382.1 945.6,380.2 946.8,378.4 947.9,376.4 949.1,374.6 950.3,373.3 951.5,371.9 952.6,370.4 953.8,369.4 955.0,368.7 956.7,368.6 958.4,368.2 960.2,368.1 961.9,368.4 963.5,368.4 965.0,368.0 966.3,367.0 967.4,365.7 968.4,364.2 969.4,362.5 970.3,360.6 971.4,358.7 972.5,356.6 973.4,355.1 974.4,353.5 975.4,351.8 976.5,350.0 977.5,348.2 978.6,346.4 979.7,344.7 980.8,343.2 981.9,341.7 982.9,340.1 984.0,338.8 985.0,337.6 986.5,336.2 988.0,334.8 989.5,333.6 991.0,332.6 992.5,331.9 994.0,331.7 995.6,332.2 997.1,333.2 998.6,334.3 1000.0,335.3 1001.2,336.6 1002.2,338.3 1003.1,340.3 1004.1,342.3 1005.1,344.0 1006.2,345.2 1007.7,345.5 1009.4,345.7 1011.0,345.5 1012.5,344.8 1013.5,343.8 1014.3,342.5 1015.1,340.9 1015.8,339.1 1016.5,337.2 1017.2,335.3 1018.0,333.3 1019.0,331.5 1020.0,330.0 1021.2,328.7 1022.4,327.7 1023.8,326.6 1025.2,325.2 1026.7,323.8 1028.1,322.5 1029.6,321.5 1031.1,320.6 1032.5,319.9 1034.2,318.8 1035.8,318.4 1037.5,318.2 1039.2,318.0 1040.8,317.7 1042.5,317.5 1044.2,317.7 1045.9,318.0 1047.6,318.8 1049.3,319.6 1050.9,320.4 1052.5,320.7 1054.4,320.3 1056.3,319.9 1058.1,319.6 1060.0,319.0 1061.6,317.9 1063.3,317.0 1064.9,316.1 1066.6,315.2 1068.3,314.9 1070.0,314.8 1071.7,314.7 1073.4,314.9 1075.1,315.7 1076.8,316.7 1078.4,317.8 1080.0,319.0 1081.0,320.1 1082.1,321.4 1083.1,322.8 1084.0,324.3 1085.0,325.9 1085.9,327.7 1086.9,329.7 1087.8,331.6 1088.7,333.4 1089.6,335.1 1090.6,336.9 1091.5,338.7 1092.5,340.3 1093.5,342.0 1094.6,343.7 1095.7,345.3 1096.8,347.0 1097.8,348.6 1098.9,350.0 1100.0,351.4 1101.1,352.9 1102.1,354.6 1103.1,356.2 1104.1,357.5 1105.0,358.8 1106.1,360.5 1107.2,362.3 1108.2,364.0 1109.2,365.5 1110.2,366.8 1111.3,368.1 1112.5,369.5 1113.7,371.0 1115.0,372.5 1116.4,374.1 1117.9,375.2 1119.3,376.4 1120.8,377.8 1122.2,379.4 1123.7,381.0 1125.0,382.5 1126.1,384.0 1127.2,385.4 1128.3,387.2 1129.4,389.2 1130.4,391.0 1131.5,392.7 1132.5,394.2 1133.5,395.8 1134.5,397.6 1135.5,399.4 1136.5,401.0 1137.5,402.6 1138.5,404.4 1139.5,406.1 1140.5,407.9 1141.4,409.5 1142.4,411.0 1143.4,412.5 1144.3,414.0 1145.3,415.5 1146.4,417.0 1147.5,418.5 1148.8,420.2 1150.1,421.9 1151.5,423.5 1152.9,425.0 1154.3,426.5 1155.7,427.6 1157.2,428.4 1158.8,428.7 1160.2,428.5 1161.7,428.1 1163.3,427.4 1164.9,426.4 1166.5,425.3 1168.0,424.1 1169.6,422.7 1171.1,421.2 1172.5,420.0 1173.7,418.8 1174.9,417.5 1176.0,415.7 1177.1,413.8 1178.1,412.0 1179.1,410.2 1180.2,408.5 1181.3,407.0 1182.4,405.8 1183.7,404.4 1185.0,403.1 1186.6,401.7 1188.2,400.1 1190.0,399.2 1191.9,398.7 1193.7,397.8 1195.6,397.2 1197.5,397.0 1199.2,396.3 1200.9,395.4 1202.5,394.2 1203.8,392.7 1205.1,391.1 1206.3,389.7 1207.5,388.4 1208.6,387.1 1209.7,385.6 1210.7,384.0 1211.8,382.3 1212.8,380.8 1213.9,379.1 1215.0,377.4 1216.1,375.6 1217.1,373.8 1218.1,372.0 1219.1,370.2 1220.1,368.7 1221.1,367.2 1222.1,365.6 1223.2,364.1 1224.2,362.5 1225.3,361.0 1226.4,359.6 1227.5,358.6 1229.1,357.7 1230.7,357.2 1232.3,356.8 1234.0,356.5 1235.8,356.4 1237.5,356.5 1239.2,356.3 1241.1,356.3 1242.9,356.6 1244.8,357.1 1246.6,357.7 1248.4,358.2 1250.0,358.5 1252.0,359.3 1253.9,360.4 1255.7,361.2 1257.5,361.4 1258.7,360.8 1259.8,359.6 1260.9,358.0 1262.0,356.3 1263.1,354.5 1264.2,352.7 1265.3,350.8 1266.4,348.9 1267.5,347.1 1268.7,345.4 1269.9,343.9 1271.1,342.5 1272.3,341.0 1273.6,339.7 1274.9,338.9 1276.2,338.5 1277.7,338.7 1279.3,339.7 1280.8,341.0 1282.5,342.2 1284.1,343.2 1285.8,344.2 1287.5,345.0 1289.2,345.5 1291.0,345.2 1292.9,345.4 1294.7,345.4 1296.5,345.6 1298.3,346.0 1300.0,346.4 1301.7,347.1 1303.4,348.0 1305.0,348.9 1306.6,349.7 1308.2,350.1 1310.0,349.8 1311.5,349.4 1313.1,348.7 1314.8,348.0 1316.4,347.3 1318.1,346.3 1319.8,345.0 1321.6,343.8 1323.3,343.3 1325.0,342.3 1326.9,341.6 1328.7,341.2 1330.6,340.7 1332.5,339.8 1334.4,339.6 1336.3,339.5 1338.2,339.6 1340.0,339.9 1341.6,340.5 1343.2,341.3 1344.7,342.4 1346.2,343.7 1347.8,344.5 1349.3,345.6 1350.7,347.0 1352.2,348.4 1353.6,350.1 1355.0,351.3 1356.3,352.5 1357.6,353.8 1358.9,355.2 1360.1,356.6 1361.3,357.9 1362.5,359.2 1363.7,360.5 1364.9,361.9 1366.2,363.4 1367.5,365.0 1368.7,366.6 1370.0,368.1 1371.3,369.7 1372.6,371.3 1374.0,373.2 1375.3,374.8 1376.7,376.2 1378.1,377.8 1379.5,379.2 1380.9,380.5 1382.3,381.6 1383.6,382.7 1385.0,383.5 1386.8,384.2 1388.6,384.6 1390.4,384.6 1392.2,384.7 1394.0,384.4 1395.7,384.4 1397.5,384.9 1399.3,385.5 1401.1,385.9 1402.9,386.4 1404.7,387.0 1406.5,388.0 1408.2,389.0 1410.0,390.2 1411.4,391.1 1412.8,392.0 1414.2,393.3 1415.5,394.5 1416.9,395.9 1418.2,397.6 1419.6,399.0 1420.9,400.3 1422.3,401.6 1423.6,403.1 1425.0,404.7 1426.2,406.3 1427.3,408.1 1428.4,409.8 1429.5,411.4 1430.7,413.3 1431.8,415.2 1432.9,417.0 1434.0,418.8 1435.1,420.4 1436.3,421.9 1437.5,423.5 1438.7,424.9 1439.9,426.3 1441.2,427.7 1442.5,429.0 1444.1,430.2 1445.8,431.1 1447.6,431.9 1449.4,432.6 1451.3,433.2 1453.1,433.9 1454.9,434.6 1456.7,435.2 1458.4,435.2 1460.0,435.0 1461.9,434.9 1463.8,434.2 1465.7,433.0 1467.5,431.6 1469.2,430.6 1470.9,429.4 1472.5,428.7 1474.5,428.3 1476.3,427.8 1478.1,427.3 1480.0,427.1 1481.6,427.5 1483.2,428.3 1484.9,429.0 1486.6,429.8 1488.3,430.8 1490.0,431.4 1491.5,432.0 1493.1,433.0 1494.7,434.1 1496.2,435.1 1497.8,436.3 1499.4,437.2 1501.0,438.0 1502.5,438.7 1504.2,439.3 1505.9,439.8 1507.5,440.0 1509.2,440.3 1510.8,440.6 1512.5,441.1" fill="none" stroke="#823a94" stroke-width="4.2" stroke-linejoin="round" stroke-linecap="butt"/>
<path d="M176.5,937.5 178.0,936.7 179.8,936.3 181.5,935.9 183.3,935.2 185.0,933.9 186.4,932.7 187.9,931.4 189.3,930.1 190.7,928.8 192.2,927.6 193.6,926.3 195.0,925.0 196.4,923.6 197.8,922.1 199.3,920.4 200.7,918.7 202.1,917.5 203.6,916.6 205.0,916.2 206.8,916.2 208.6,916.8 210.4,917.8 212.2,919.0 213.8,920.2 214.9,921.4 215.9,922.9 216.8,924.6 217.7,926.2 218.8,927.7 220.0,928.9 221.5,929.7 223.1,930.1 224.9,930.2 226.6,930.4 228.4,930.7 230.0,931.2 231.6,931.8 233.1,932.5 234.6,933.0 236.1,933.5 237.5,934.3 239.0,935.3 240.4,936.5 241.9,937.8 243.4,939.0 245.0,940.0 246.6,940.6 248.2,941.2 249.9,941.3 251.7,941.5 253.4,941.7 255.0,941.3 256.3,940.6 257.5,939.6 258.7,938.2 259.9,936.7 261.0,935.0 262.3,933.4 263.6,932.0 265.0,930.9 266.7,930.2 268.5,929.4 270.4,928.3 272.4,927.5 274.4,927.0 276.4,926.3 278.3,926.0 280.0,926.1 281.8,926.7 283.4,927.7 284.9,928.9 286.5,930.2 288.1,931.5 290.0,932.0 291.7,932.3 293.6,932.1 295.5,931.7 297.6,931.2 299.6,930.7 301.7,930.3 303.7,930.0 305.7,929.9 307.5,929.8 309.4,930.3 311.2,931.0 313.0,931.7 314.7,932.5 316.5,933.3 318.2,934.3 320.0,934.9 321.7,935.7 323.5,936.9 325.3,937.9 327.0,939.2 328.8,940.3 330.5,941.1 332.2,941.3 333.8,941.2 335.2,940.7 336.5,939.7 337.7,938.3 338.9,936.6 340.1,934.8 341.3,932.8 342.5,930.9 343.7,929.1 345.0,927.4 346.2,926.1 347.4,924.6 348.6,923.0 349.8,921.3 351.1,919.8 352.3,918.4 353.6,917.1 354.9,916.0 356.2,915.1 357.5,914.5 359.2,914.3 360.9,914.7 362.7,915.5 364.5,916.6 366.3,918.0 368.2,919.3 370.0,920.3 371.5,921.1 372.9,921.9 374.4,923.1 375.9,924.4 377.4,925.8 378.9,926.9 380.4,928.0 381.9,928.9 383.4,929.7 385.0,930.2 386.8,930.7 388.7,930.8 390.5,930.5 392.4,930.1 394.3,929.9 396.2,929.4 398.1,929.2 400.0,929.0 401.9,928.6 403.8,928.2 405.8,927.8 407.7,927.6 409.6,927.4 411.5,927.1 413.3,926.8 415.0,926.5 416.8,926.0 418.5,925.6 420.1,925.4 421.7,925.1 423.4,924.6 425.0,923.7 426.3,923.0 427.5,921.9 428.8,920.6 430.1,918.9 431.3,917.3 432.6,915.8 433.9,914.2 435.1,912.7 436.4,911.0 437.6,909.3 438.8,907.7 440.0,906.2 441.2,904.6 442.3,903.0 443.4,901.4 444.4,899.6 445.5,897.9 446.5,896.2 447.6,894.7 448.7,893.2 449.9,892.0 451.2,890.8 452.5,890.0 454.2,889.3 456.0,888.6 457.9,888.2 459.9,888.0 461.9,888.0 463.8,888.1 465.7,888.5 467.5,888.9 469.2,889.4 470.8,890.5 472.4,891.8 474.0,893.3 475.5,894.7 477.0,896.0 478.5,897.0 480.0,897.6 481.7,897.5 483.2,896.8 484.8,896.0 486.4,895.1 488.2,894.3 490.0,893.8 491.7,893.6 493.6,893.4 495.6,893.4 497.6,893.6 499.7,893.8 501.7,894.1 503.7,894.3 505.7,894.5 507.5,894.8 509.4,895.5 511.1,896.3 512.8,897.0 514.4,897.7 516.1,898.6 518.0,899.5 520.0,900.1 521.7,900.5 523.4,900.8 525.4,901.2 527.4,901.8 529.4,902.0 531.5,902.0 533.7,902.1 535.7,902.2 537.8,902.3 539.8,902.3 541.7,902.1 543.4,901.9 545.0,901.4 546.7,900.6 548.3,899.4 549.7,898.0 551.0,896.4 552.3,894.8 553.6,893.2 554.8,891.8 556.1,890.7 557.5,889.8 559.5,889.4 561.5,889.4 563.5,890.0 565.5,890.3 567.5,890.2 569.2,889.6 570.8,888.4 572.5,887.6 574.1,886.8 575.8,886.2 577.5,886.0 579.0,886.4 580.5,887.2 582.1,888.4 583.6,889.7 585.2,890.9 586.8,892.1 588.4,893.3 590.0,894.1 591.8,894.4 593.5,894.4 595.4,894.3 597.2,894.0 599.0,894.1 600.8,894.5 602.5,895.1 604.1,895.8 605.7,896.8 607.2,898.0 608.7,899.2 610.2,900.4 611.8,901.6 613.3,902.7 615.0,903.7 616.8,904.5 618.7,905.2 620.6,905.5 622.5,906.1 624.5,906.8 626.4,907.4 628.2,907.9 630.0,908.8 631.5,909.9 632.9,911.0 634.2,912.3 635.5,913.6 636.8,914.8 638.1,916.0 639.5,917.1 640.9,918.0 642.5,918.8 644.3,919.5 646.2,919.9 648.1,920.1 650.2,919.9 652.2,920.0 654.3,920.2 656.3,920.0 658.2,919.9 660.0,920.0 662.0,920.2 664.0,920.7 665.9,921.5 667.8,921.9 669.5,921.7 671.2,921.2 672.6,920.4 673.9,919.2 675.1,917.6 676.2,915.9 677.4,914.2 678.6,912.5 679.9,911.1 681.2,910.1 683.0,909.3 684.8,909.1 686.6,909.2 688.5,909.0 690.5,909.0 692.5,908.9 694.3,908.3 696.2,907.8 698.1,907.3 700.1,906.8 702.0,906.5 703.9,906.1 705.8,906.1 707.5,906.3 709.0,906.8 710.5,907.8 711.9,909.1 713.3,910.5 714.7,911.9 716.0,913.4 717.3,914.9 718.7,916.3 720.0,917.5 721.7,918.8 723.4,920.0 725.0,921.0 726.7,921.9 728.3,922.8 730.0,923.8 731.6,924.7 733.3,925.7 735.0,926.5 736.6,927.2 738.3,927.9 740.0,928.7 741.6,929.4 743.3,930.2 745.0,930.8 746.6,931.3 748.3,931.7 750.0,931.9 751.7,932.1 753.4,932.1 755.0,932.2 756.7,932.0 758.4,931.8 760.0,931.5 761.5,930.9 762.9,929.9 764.2,928.5 765.5,927.0 766.9,925.7 768.4,924.7 770.0,923.8 771.7,923.2 773.5,922.7 775.4,922.2 777.4,921.7 779.4,921.3 781.3,921.0 783.2,920.7 785.0,920.1 786.7,919.2 788.3,918.1 789.8,917.1 791.3,915.9 792.9,914.8 794.4,913.5 795.9,912.2 797.5,911.1 799.2,910.3 801.0,909.6 802.8,908.8 804.6,908.0 806.4,907.3 808.2,906.7 810.0,906.0 811.8,905.8 813.6,905.6 815.3,905.5 817.2,905.4 818.9,905.3 820.7,905.2 822.5,905.0 824.3,904.5 826.1,904.0 827.9,903.2 829.7,902.2 831.5,901.3 833.2,900.5 835.0,899.9 836.9,899.2 838.8,898.5 840.6,897.7 842.5,897.0 844.4,896.5 846.2,896.3 848.1,896.3 850.0,896.8 851.9,897.2 853.8,897.9 855.7,898.5 857.5,898.5 859.2,898.3 860.9,898.2 862.6,898.0 864.2,897.8 865.9,897.9 867.5,898.2 868.9,898.8 870.3,899.8 871.7,901.0 873.1,902.3 874.4,903.8 875.8,905.6 877.2,907.3 878.6,908.9 880.0,910.2 881.5,911.4 883.1,912.8 884.7,914.1 886.3,915.3 887.9,916.3 889.5,917.5 891.0,918.3 892.5,918.8 894.4,918.9 896.2,918.5 898.0,918.1 900.0,917.8 901.6,918.1 903.4,918.6 905.2,919.0 907.2,919.7 909.1,920.6 911.1,921.1 913.1,921.5 915.0,922.0 916.9,922.5 918.8,922.7 920.7,922.9 922.7,923.0 924.6,923.2 926.4,923.2 928.3,923.2 930.0,922.7 931.5,922.1 933.0,921.2 934.4,920.2 935.8,919.0 937.2,917.9 938.5,916.6 939.8,915.2 941.2,913.8 942.5,912.5 943.8,911.2 945.1,909.9 946.3,908.6 947.5,907.1 948.8,905.6 950.0,904.2 951.2,902.8 952.5,901.4 953.7,900.0 955.0,898.6 956.4,897.2 957.8,895.9 959.2,894.8 960.6,893.7 962.1,892.6 963.5,891.4 964.9,890.2 966.2,889.0 967.5,887.6 968.7,886.2 969.8,884.7 970.9,883.3 972.0,881.9 973.0,880.6 974.1,879.2 975.2,877.8 976.3,876.3 977.5,874.9 978.8,873.5 980.1,871.9 981.4,870.2 982.8,868.7 984.2,867.2 985.6,865.9 987.0,864.6 988.5,863.4 990.0,862.3 991.7,861.5 993.5,860.9 995.3,860.5 997.1,860.2 999.0,859.9 1000.8,859.9 1002.5,859.8 1004.2,859.3 1006.0,859.4 1007.6,859.8 1009.3,860.1 1010.9,860.5 1012.5,860.5 1014.0,859.5 1015.3,857.8 1016.7,856.7 1018.0,855.4 1019.4,854.0 1020.9,852.2 1022.5,850.8 1024.0,850.3 1025.6,850.0 1027.3,849.5 1029.1,848.5 1030.9,847.5 1032.8,847.0 1034.6,846.3 1036.5,845.6 1038.3,845.0 1040.0,845.0 1041.9,844.5 1043.8,844.8 1045.7,845.3 1047.5,845.7 1049.4,846.0 1051.3,846.7 1053.1,847.1 1055.0,846.9 1056.9,847.2 1058.8,847.3 1060.7,846.7 1062.6,846.4 1064.5,846.3 1066.4,846.6 1068.2,846.7 1070.0,847.0 1071.9,847.5 1073.7,848.1 1075.5,849.2 1077.3,850.4 1079.0,851.3 1080.8,852.1 1082.5,853.1 1084.1,854.1 1085.6,854.8 1087.1,856.2 1088.7,857.5 1090.2,858.6 1091.7,859.8 1093.3,861.0 1095.0,862.7 1096.5,863.9 1098.0,865.0 1099.6,866.0 1101.2,867.2 1102.9,868.2 1104.5,869.4 1106.2,870.4 1107.8,871.3 1109.4,872.5 1111.0,873.7 1112.5,875.0 1114.4,876.2 1116.2,877.3 1117.9,878.1 1119.7,878.2 1121.4,878.6 1123.2,879.4 1125.0,880.8 1126.5,882.1 1127.9,883.3 1129.4,884.3 1130.9,885.2 1132.3,886.5 1133.8,887.9 1135.3,889.0 1136.9,890.1 1138.4,891.4 1140.0,892.4 1141.7,893.4 1143.4,894.6 1145.2,895.7 1146.9,896.7 1148.7,897.7 1150.5,898.4 1152.3,899.0 1154.1,900.5 1155.8,901.1 1157.5,901.5 1159.3,901.7 1161.1,901.7 1162.9,901.8 1164.6,901.6 1166.4,901.1 1168.2,900.7 1170.0,900.2 1171.5,899.6 1173.1,899.0 1174.6,898.0 1176.2,896.4 1177.8,894.8 1179.4,893.7 1181.0,893.3 1182.6,892.3 1184.2,891.6 1185.9,890.7 1187.5,889.9 1189.2,889.2 1190.9,888.8 1192.7,888.8 1194.4,888.3 1196.2,887.5 1197.9,887.1 1199.7,887.1 1201.4,886.5 1203.2,885.8 1205.0,885.1 1206.6,884.4 1208.2,883.4 1209.8,882.2 1211.5,880.6 1213.2,879.2 1214.8,877.6 1216.5,876.4 1218.1,875.1 1219.8,873.9 1221.4,872.5 1223.0,871.1 1224.5,870.2 1226.0,869.4 1227.5,868.6 1229.4,867.9 1231.2,867.7 1232.9,867.5 1234.7,866.9 1236.4,866.1 1238.2,866.0 1240.0,866.2 1241.8,866.3 1243.7,866.6 1245.7,866.6 1247.6,866.7 1249.5,867.2 1251.4,868.1 1253.3,869.0 1255.0,868.3 1256.8,867.6 1258.5,866.9 1260.1,866.5 1261.7,866.2 1263.4,865.5 1265.0,864.7 1266.6,864.1 1268.1,863.6 1269.7,862.2 1271.3,860.7 1272.9,859.5 1274.5,858.8 1276.2,858.4 1278.1,858.1 1279.9,858.6 1281.8,859.3 1283.7,859.7 1285.7,860.2 1287.8,860.9 1290.0,861.2 1291.7,861.4 1293.5,861.6 1295.3,861.9 1297.2,862.5 1299.2,863.3 1301.2,863.9 1303.2,864.6 1305.2,865.0 1307.3,865.1 1309.3,865.4 1311.2,865.6 1313.1,866.0 1315.0,866.8 1317.1,867.0 1319.2,866.7 1321.3,866.8 1323.3,866.0 1325.3,865.8 1327.3,866.0 1329.3,866.0 1331.2,865.6 1333.1,865.9 1335.0,866.3 1337.0,866.5 1338.9,866.8 1340.8,867.4 1342.7,867.9 1344.5,868.5 1346.3,869.0 1348.2,870.4 1350.0,871.4 1351.7,872.3 1353.3,873.1 1355.0,873.7 1356.6,874.4 1358.2,875.2 1359.9,876.2 1361.6,877.2 1363.3,878.4 1365.0,879.5 1366.6,880.1 1368.2,881.3 1369.9,882.6 1371.5,883.6 1373.2,884.4 1374.9,885.5 1376.6,886.9 1378.3,887.8 1380.0,888.6 1381.7,890.0 1383.4,890.9 1385.0,891.3 1386.9,891.7 1388.9,892.1 1390.8,892.0 1392.8,891.9 1394.7,892.4 1396.5,892.8 1398.3,892.8 1400.0,893.1 1401.8,893.7 1403.5,893.9 1405.1,894.0 1406.7,894.7 1408.3,895.5 1410.0,896.2 1411.4,896.8 1412.8,897.4 1414.2,898.1 1415.7,899.1 1417.1,900.5 1418.6,902.0 1420.2,903.2 1421.7,904.1 1423.3,905.4 1425.0,906.5 1426.6,907.3 1428.2,908.0 1430.0,909.1 1431.7,910.0 1433.5,911.1 1435.4,912.3 1437.2,912.7 1439.0,913.5 1440.8,914.7 1442.6,915.6 1444.3,916.3 1445.9,917.1 1447.5,917.7 1449.4,918.0 1451.2,918.4 1453.0,919.1 1454.7,919.5 1456.4,919.8 1458.2,920.0 1460.0,920.6 1461.8,920.7 1463.7,920.1 1465.6,919.4 1467.5,919.0 1469.4,918.5 1471.3,918.4 1473.2,917.9 1475.0,918.1 1476.9,918.3 1478.7,918.1 1480.5,917.8 1482.3,917.4 1484.1,917.2 1485.8,916.9 1487.5,916.9 1489.2,917.4 1490.9,918.5 1492.4,919.8 1494.0,921.0 1495.7,921.6 1497.5,922.4 1499.2,923.2 1501.0,923.5 1502.9,923.5 1504.8,923.6 1506.7,923.5 1508.7,923.4 1510.6,923.6 1512.5,923.8" fill="none" stroke="#000000" stroke-width="4.2" stroke-linejoin="round" stroke-linecap="butt"/>
<path d="M176.5,876.2 177.7,875.5 179.2,874.9 180.7,874.3 182.2,873.5 183.6,872.6 185.0,871.6 186.2,870.5 187.3,869.3 188.4,867.6 189.4,865.9 190.5,864.3 191.6,862.7 192.7,861.1 193.8,859.2 195.0,857.5 196.3,856.1 197.6,854.7 198.9,853.3 200.3,851.8 201.7,850.1 203.1,848.4 204.5,846.9 206.0,845.7 207.5,844.8 209.2,843.9 211.0,843.1 212.8,842.4 214.6,841.8 216.4,841.5 218.2,840.8 220.0,839.5 221.4,838.2 222.8,837.4 224.2,836.1 225.5,834.6 226.9,832.9 228.3,831.2 229.6,829.9 231.0,828.8 232.3,827.0 233.7,825.5 235.0,824.5 236.7,824.3 238.4,824.3 240.1,824.0 241.7,823.8 243.4,824.1 245.0,824.0 246.7,823.3 248.5,822.4 250.2,821.2 251.8,820.0 253.5,818.9 255.0,817.3 256.0,816.0 257.0,814.6 257.9,813.1 258.8,811.6 259.6,810.1 260.5,808.6 261.3,807.1 262.2,805.3 263.1,803.5 264.0,801.7 265.0,800.0 266.1,798.1 267.3,796.4 268.6,795.1 269.8,793.8 271.1,792.4 272.4,790.9 273.7,789.3 275.0,787.7 276.2,785.9 277.5,784.5 278.9,783.5 280.4,782.8 281.8,782.1 283.2,781.4 284.7,780.5 286.1,779.2 287.5,777.5 288.7,776.1 289.8,774.7 291.0,773.1 292.2,771.4 293.3,769.6 294.4,767.9 295.6,766.2 296.7,764.8 297.8,763.3 298.9,761.5 300.0,759.8 301.1,758.0 302.2,756.4 303.2,754.9 304.3,753.3 305.3,751.7 306.4,750.1 307.5,748.6 308.7,747.4 310.0,746.5 311.6,745.7 313.4,745.1 315.2,744.4 317.1,743.7 318.9,743.4 320.8,743.1 322.5,742.6 324.3,741.9 326.1,741.6 327.8,741.5 329.5,740.7 331.0,739.8 332.5,738.8 333.7,737.7 334.7,736.3 335.7,734.7 336.6,732.9 337.5,731.1 338.3,729.1 339.1,727.1 340.0,725.3 340.8,723.7 341.5,722.0 342.2,720.1 342.9,718.3 343.6,716.3 344.3,714.4 345.0,712.5 345.8,710.8 346.6,709.1 347.5,707.6 348.5,706.2 349.5,704.6 350.5,703.1 351.6,701.6 352.7,700.1 353.9,698.7 355.1,697.4 356.3,696.3 357.5,695.1 359.1,693.9 360.7,693.0 362.4,692.2 364.1,691.4 365.8,690.8 367.5,690.3 369.2,689.3 370.9,688.6 372.6,687.6 374.3,686.5 375.9,685.5 377.5,684.9 379.1,684.2 380.6,683.5 382.2,682.7 383.6,682.1 385.0,681.4 386.2,680.4 387.2,678.9 388.2,677.0 389.1,675.0 390.1,672.9 391.2,671.2 392.5,669.9 394.0,669.3 395.7,668.6 397.4,667.8 399.2,667.2 400.9,667.0 402.5,666.5 404.1,665.3 405.5,663.8 406.9,662.3 408.3,660.9 410.0,659.7 411.6,659.1 413.4,658.5 415.2,657.9 417.1,657.7 419.0,657.1 420.8,656.3 422.5,655.2 423.9,654.1 425.2,652.9 426.6,651.6 427.8,650.5 429.0,649.3 430.2,648.0 431.4,646.6 432.5,645.2 433.7,644.1 434.8,642.7 435.9,641.2 436.9,639.7 438.0,638.1 439.0,636.6 440.0,635.0 440.7,633.7 441.5,632.3 442.2,630.5 442.8,628.5 443.5,626.5 444.2,624.4 444.8,622.3 445.5,620.2 446.2,618.2 446.9,616.4 447.6,614.7 448.4,613.0 449.2,611.6 450.0,610.4 451.4,609.0 452.8,607.7 454.3,606.8 455.8,606.0 457.5,605.0 458.9,604.0 460.4,602.4 462.0,601.4 463.6,600.4 465.2,599.4 466.8,598.7 468.4,598.4 470.0,597.6 471.7,597.3 473.4,598.0 475.1,598.9 476.8,599.7 478.4,600.0 480.0,599.7 481.3,599.4 482.6,598.6 483.9,597.5 485.2,596.2 486.4,594.5 487.6,592.7 488.8,591.3 490.0,590.1 491.5,589.0 493.1,588.2 494.6,587.2 496.0,586.3 497.5,584.9 498.5,583.5 499.5,581.9 500.5,580.2 501.4,578.7 502.4,577.1 503.3,575.3 504.3,573.4 505.3,571.9 506.4,570.6 507.5,569.1 509.1,567.6 510.7,566.6 512.4,565.9 514.1,564.7 515.8,564.0 517.5,562.7 518.8,561.4 520.0,559.9 521.3,558.5 522.5,556.9 523.8,555.2 525.0,553.4 526.3,552.0 527.5,550.6 528.8,548.8 530.0,547.1 531.3,545.7 532.6,544.6 534.0,543.1 535.3,541.6 536.7,539.9 538.0,538.4 539.3,536.8 540.5,535.3 541.5,533.9 542.5,532.6 543.5,530.7 544.3,528.9 544.9,527.1 545.6,525.3 546.2,523.4 546.8,521.7 547.5,519.8 548.1,518.2 548.7,516.6 549.3,514.8 549.9,513.1 550.6,511.2 551.2,509.2 551.9,507.3 552.6,505.3 553.4,503.3 554.1,501.5 555.0,499.8 556.0,498.3 557.0,497.1 558.1,495.8 559.3,494.4 560.5,493.2 561.7,492.0 562.8,490.7 563.9,489.2 565.0,487.6 565.9,486.0 566.7,484.3 567.6,482.5 568.3,480.7 569.1,478.7 569.9,476.6 570.7,474.5 571.5,472.6 572.3,471.0 573.1,469.6 574.0,468.5 575.0,467.6 576.8,466.2 578.7,465.7 580.6,466.0 582.5,466.0 584.0,466.6 585.4,468.0 586.8,469.6 588.3,471.0 590.0,471.7 591.5,471.6 593.2,471.0 595.0,470.7 596.8,470.2 598.6,469.4 600.4,468.9 602.2,468.7 603.8,468.8 605.5,469.4 607.2,470.5 608.8,471.9 610.5,472.6 612.1,473.1 613.8,473.4 615.4,473.6 617.1,473.2 618.8,472.4 620.4,471.2 622.1,469.6 623.7,468.4 625.3,467.4 627.0,466.4 628.6,465.7 630.2,465.6 631.7,466.3 633.3,467.0 634.8,468.5 636.4,470.2 637.9,471.7 639.4,472.5 640.8,472.9 642.5,473.0 644.1,473.0 645.6,472.8 647.2,472.6 648.9,472.8 650.6,473.3 652.3,474.3 654.1,475.3 655.9,476.3 657.6,477.2 659.4,477.8 661.1,478.6 662.8,479.7 664.6,480.8 666.2,482.1 667.9,483.0 669.6,483.8 671.2,483.8 672.7,483.3 674.2,482.4 675.7,481.1 677.2,479.9 678.8,479.0 680.4,478.6 681.9,478.9 683.6,479.5 685.3,480.2 687.0,480.8 688.7,482.5 690.4,483.9 692.1,484.4 693.6,484.7 695.3,484.6 697.0,484.6 698.6,484.6 700.2,484.4 701.7,485.0 703.2,486.0 704.6,487.0 705.9,488.2 707.3,489.8 708.6,491.5 709.8,493.4 710.7,494.8 711.5,496.3 712.3,497.7 713.1,499.3 713.9,500.9 714.6,502.7 715.4,504.4 716.2,506.0 717.0,507.6 717.9,509.3 718.8,511.0 719.8,512.6 720.8,514.2 721.8,515.9 722.8,517.7 723.8,519.5 724.9,521.3 725.9,523.0 727.0,524.7 728.1,526.2 729.3,527.5 730.5,528.7 731.8,529.8 733.0,530.8 734.3,531.8 735.6,532.7 736.9,533.9 738.2,535.3 739.5,537.2 740.8,539.0 742.1,540.6 743.5,541.8 744.8,543.2 746.1,544.7 747.4,546.3 748.7,547.6 750.0,549.0 751.3,550.5 752.5,552.3 753.7,554.0 754.9,555.3 756.2,556.8 757.4,558.1 758.7,559.2 760.0,559.8 761.6,560.0 763.2,559.4 764.8,558.0 766.5,556.5 768.2,555.8 770.0,555.4 771.5,555.6 773.1,556.2 774.8,557.1 776.5,558.0 778.2,559.6 780.0,560.8 781.7,561.5 783.4,561.9 785.0,562.3 786.8,562.1 788.6,561.5 790.4,560.9 792.2,560.3 794.0,559.5 795.7,558.9 797.5,558.9 799.3,559.3 801.1,559.8 802.8,560.6 804.6,561.7 806.3,562.6 808.2,563.3 810.0,564.4 811.6,564.8 813.2,565.2 814.9,566.0 816.5,567.1 818.2,567.9 819.9,568.2 821.6,568.9 823.3,569.2 825.0,569.2 826.9,569.3 828.8,569.1 830.7,569.0 832.7,568.9 834.6,568.7 836.5,568.1 838.3,567.9 840.0,567.7 841.8,567.3 843.5,566.8 845.1,566.3 846.7,565.7 848.4,565.4 850.0,565.4 851.7,565.5 853.4,565.6 855.1,565.7 856.8,565.7 858.5,565.6 860.0,565.6 861.6,565.0 863.1,564.2 864.6,562.8 866.0,561.5 867.5,560.9 869.4,561.2 871.3,561.8 873.2,562.5 875.0,563.5 876.2,564.6 877.3,565.9 878.4,567.5 879.4,569.1 880.5,570.9 881.6,572.6 882.7,574.3 883.8,576.2 885.0,577.8 886.2,579.1 887.4,580.7 888.6,582.2 889.8,583.5 891.0,585.3 892.3,587.1 893.6,588.6 894.9,590.2 896.2,591.7 897.5,593.3 898.8,594.3 900.2,595.3 901.6,595.8 903.1,596.8 904.5,597.9 905.9,599.1 907.3,600.4 908.7,601.6 910.0,602.7 911.5,604.0 912.9,605.8 914.3,607.0 915.7,608.0 917.1,609.0 918.5,610.6 920.0,611.6 921.3,612.5 922.7,613.7 924.1,615.4 925.4,617.0 926.8,618.5 928.2,620.0 929.7,621.2 931.1,622.0 932.5,622.5 934.1,623.1 935.8,623.6 937.4,623.8 939.1,623.6 940.8,623.9 942.5,623.7 944.2,623.4 946.0,623.0 947.8,622.3 949.6,621.4 951.4,620.1 953.2,620.4 955.0,620.8 956.8,620.5 958.5,620.2 960.3,621.4 962.0,622.5 963.8,623.6 965.6,623.8 967.5,623.3 969.2,623.2 970.9,622.5 972.7,621.6 974.5,620.9 976.4,620.0 978.2,618.9 980.0,617.9 981.7,617.0 983.4,615.8 985.0,615.5 986.8,615.4 988.4,615.6 990.0,616.1 991.6,617.0 993.2,618.0 995.0,618.8 996.6,619.9 998.2,620.6 999.9,621.1 1001.6,622.0 1003.4,623.3 1005.2,624.6 1007.0,625.6 1008.9,626.4 1010.7,627.3 1012.5,627.9 1014.4,628.1 1016.3,627.8 1018.2,627.8 1020.1,627.5 1022.1,626.5 1024.0,626.1 1026.0,626.0 1028.0,625.2 1030.0,625.1 1031.9,626.0 1033.9,625.7 1035.9,624.6 1037.9,624.8 1039.9,625.1 1041.9,624.9 1043.9,625.3 1045.9,624.8 1048.0,624.9 1050.0,625.5 1051.9,625.9 1053.7,626.0 1055.7,624.5 1057.6,623.5 1059.5,622.4 1061.5,621.0 1063.4,620.5 1065.3,619.9 1067.2,620.0 1069.0,619.6 1070.8,619.9 1072.5,619.5 1074.5,619.7 1076.5,620.0 1078.3,620.7 1080.2,620.2 1082.0,619.8 1083.8,621.2 1085.6,622.0 1087.5,622.3 1089.1,622.8 1090.7,623.2 1092.2,624.1 1093.8,625.4 1095.4,626.7 1096.9,628.3 1098.5,629.6 1100.1,630.7 1101.7,631.5 1103.4,632.3 1105.0,633.5 1106.6,634.7 1108.3,635.3 1110.0,636.3 1111.7,637.4 1113.4,638.6 1115.1,639.8 1116.8,640.6 1118.5,641.2 1120.2,642.3 1121.8,643.9 1123.4,644.4 1125.0,644.6 1126.8,645.2 1128.4,646.4 1130.1,647.9 1131.7,649.1 1133.3,650.2 1134.9,651.1 1136.5,651.3 1138.2,652.1 1140.0,653.5 1141.8,654.2 1143.6,654.5 1145.5,655.9 1147.4,657.2 1149.4,657.5 1151.3,658.1 1153.3,659.0 1155.1,659.4 1157.0,659.6 1158.8,659.9 1160.6,659.7 1162.3,659.5 1164.1,658.8 1165.7,658.0 1167.4,656.9 1169.1,655.8 1170.8,655.2 1172.5,654.8 1174.1,654.2 1175.8,653.3 1177.4,652.1 1179.1,651.0 1180.8,650.3 1182.4,649.3 1184.1,648.1 1185.8,647.5 1187.5,647.5 1189.4,647.6 1191.2,647.7 1193.2,647.9 1195.1,648.5 1197.0,649.3 1198.9,649.6 1200.7,649.7 1202.5,649.8 1204.4,649.4 1206.2,648.8 1208.0,648.7 1209.7,648.4 1211.5,646.6 1213.2,644.8 1215.0,644.7 1216.5,643.9 1218.0,642.3 1219.4,640.8 1220.9,639.6 1222.4,638.2 1223.9,636.6 1225.4,635.4 1226.9,634.3 1228.4,633.1 1230.0,632.0 1231.8,632.0 1233.7,631.1 1235.6,630.3 1237.5,630.0 1239.4,630.4 1241.3,630.9 1243.2,630.4 1245.0,629.9 1246.8,629.9 1248.6,630.0 1250.3,630.4 1252.1,630.8 1253.8,630.8 1255.6,630.3 1257.5,629.9 1259.0,629.2 1260.6,627.9 1262.2,627.1 1263.8,626.7 1265.5,626.0 1267.1,624.7 1268.8,623.1 1270.5,621.3 1272.2,619.9 1274.0,619.2 1275.7,619.0 1277.5,618.1 1279.3,617.4 1281.2,617.0 1283.1,615.9 1285.1,615.1 1287.0,614.0 1289.0,613.5 1291.0,613.5 1292.9,612.8 1294.8,612.4 1296.6,612.0 1298.4,611.0 1300.0,610.6 1302.0,610.1 1303.9,610.0 1305.7,609.8 1307.4,609.1 1309.1,608.6 1310.8,608.1 1312.5,607.4 1314.1,606.3 1315.6,605.3 1317.1,604.2 1318.7,603.1 1320.2,602.1 1321.7,601.2 1323.3,600.7 1325.0,599.2 1326.5,597.8 1328.0,596.6 1329.5,595.7 1331.1,595.0 1332.7,594.1 1334.3,592.3 1335.9,591.3 1337.6,590.7 1339.2,590.0 1340.9,589.3 1342.5,589.1 1344.4,588.4 1346.3,588.0 1348.2,587.9 1350.1,586.4 1352.0,585.8 1354.0,585.4 1355.9,585.2 1357.9,585.7 1360.0,585.7 1361.8,585.3 1363.7,584.9 1365.6,584.8 1367.6,584.8 1369.5,585.3 1371.5,586.1 1373.5,586.4 1375.5,586.5 1377.3,586.6 1379.2,586.7 1380.9,587.0 1382.5,586.9 1384.3,586.3 1385.9,585.0 1387.3,583.7 1388.8,582.5 1390.2,581.6 1391.7,580.7 1393.2,580.4 1395.0,579.5 1396.6,578.9 1398.3,578.2 1400.1,577.3 1401.9,576.3 1403.8,575.9 1405.7,575.9 1407.7,575.8 1409.6,575.6 1411.6,574.8 1413.6,574.5 1415.6,574.9 1417.5,574.9 1419.4,574.6 1421.3,574.8 1423.3,575.6 1425.3,576.3 1427.2,576.6 1429.2,576.9 1431.2,578.0 1433.2,579.0 1435.1,579.6 1437.0,579.2 1438.9,579.7 1440.7,581.0 1442.5,580.5 1444.4,579.9 1446.2,579.3 1448.0,579.0 1449.8,578.7 1451.5,578.5 1453.3,578.0 1455.0,576.9 1456.6,575.7 1458.3,574.4 1460.0,573.9 1461.6,573.3 1463.3,572.2 1464.9,571.5 1466.5,570.7 1468.1,569.4 1469.6,567.7 1471.2,566.7 1472.8,565.6 1474.3,564.6 1475.9,563.7 1477.5,563.0 1479.4,562.5 1481.2,561.3 1483.0,560.0 1484.8,559.7 1486.7,559.8 1488.6,558.8 1490.5,558.8 1492.5,558.5 1494.2,558.6 1496.0,558.2 1497.7,557.5 1499.6,556.7 1501.4,556.6 1503.2,556.7 1505.1,556.9 1507.0,556.5 1508.8,555.7 1510.7,555.6 1512.5,555.8" fill="none" stroke="#dc7e0c" stroke-width="4.2" stroke-linejoin="round" stroke-linecap="butt"/>
<text x="176.6" y="1202.5" font-family="Liberation Serif, serif" fill="#222" font-size="48" text-anchor="middle">400</text>
<text x="399.4" y="1202.5" font-family="Liberation Serif, serif" fill="#222" font-size="48" text-anchor="middle">500</text>
<text x="622.2" y="1202.5" font-family="Liberation Serif, serif" fill="#222" font-size="48" text-anchor="middle">600</text>
<text x="845.0" y="1202.5" font-family="Liberation Serif, serif" fill="#222" font-size="48" text-anchor="middle">700</text>
<text x="1067.8" y="1202.5" font-family="Liberation Serif, serif" fill="#222" font-size="48" text-anchor="middle">800</text>
<text x="1290.6" y="1202.5" font-family="Liberation Serif, serif" fill="#222" font-size="48" text-anchor="middle">900</text>
<text x="1513.4" y="1202.5" font-family="Liberation Serif, serif" fill="#222" font-size="48" text-anchor="middle">1000</text>
<text x="159.0" y="1161.5" font-family="Liberation Serif, serif" fill="#222" font-size="52" text-anchor="end" textLength="25.0" lengthAdjust="spacingAndGlyphs">0</text>
<text x="159.0" y="976.5" font-family="Liberation Serif, serif" fill="#222" font-size="52" text-anchor="end" textLength="47.8" lengthAdjust="spacingAndGlyphs">20</text>
<text x="159.0" y="791.5" font-family="Liberation Serif, serif" fill="#222" font-size="52" text-anchor="end" textLength="47.8" lengthAdjust="spacingAndGlyphs">40</text>
<text x="159.0" y="606.5" font-family="Liberation Serif, serif" fill="#222" font-size="52" text-anchor="end" textLength="47.8" lengthAdjust="spacingAndGlyphs">60</text>
<text x="159.0" y="421.6" font-family="Liberation Serif, serif" fill="#222" font-size="52" text-anchor="end" textLength="47.8" lengthAdjust="spacingAndGlyphs">80</text>
<text x="159.0" y="236.6" font-family="Liberation Serif, serif" fill="#222" font-size="52" text-anchor="end" textLength="71.3" lengthAdjust="spacingAndGlyphs">100</text>
<text x="159.0" y="51.6" font-family="Liberation Serif, serif" fill="#222" font-size="52" text-anchor="end" textLength="71.3" lengthAdjust="spacingAndGlyphs">120</text>
<text x="618" y="1246.3" font-family="Liberation Serif, serif" fill="#222" font-size="51" textLength="381" lengthAdjust="spacingAndGlyphs">Wavelength(nm)</text>
<text transform="translate(69.3,754.5) rotate(-90)" font-family="Liberation Serif, serif" fill="#222" font-size="50" textLength="339" lengthAdjust="spacingAndGlyphs">Reflectance(%)</text>
<rect x="1520.4" y="676.6" width="449.4" height="463.3" fill="#fff" stroke="#747474" stroke-width="2.6"/>
<line x1="1533" y1="707.1" x2="1659" y2="707.1" stroke="#c2c210" stroke-width="4"/>
<text x="1669.6" y="726.4" font-family="Liberation Serif, serif" fill="#111" font-size="50" textLength="285.5" lengthAdjust="spacingAndGlyphs">Endmember 1</text>
<line x1="1533" y1="757.5" x2="1659" y2="757.5" stroke="#a32038" stroke-width="4"/>
<text x="1669.6" y="776.8" font-family="Liberation Serif, serif" fill="#111" font-size="50" textLength="285.5" lengthAdjust="spacingAndGlyphs">Endmember 2</text>
<line x1="1533" y1="807.8" x2="1659" y2="807.8" stroke="#fcd80c" stroke-width="4"/>
<text x="1669.6" y="827.1" font-family="Liberation Serif, serif" fill="#111" font-size="50" textLength="285.5" lengthAdjust="spacingAndGlyphs">Endmember 3</text>
<line x1="1533" y1="858.2" x2="1659" y2="858.2" stroke="#107e10" stroke-width="4"/>
<text x="1669.6" y="877.5" font-family="Liberation Serif, serif" fill="#111" font-size="50" textLength="285.5" lengthAdjust="spacingAndGlyphs">Endmember 4</text>
<line x1="1533" y1="908.6" x2="1659" y2="908.6" stroke="#fc1416" stroke-width="4"/>
<text x="1669.6" y="927.9" font-family="Liberation Serif, serif" fill="#111" font-size="50" textLength="285.5" lengthAdjust="spacingAndGlyphs">Endmember 5</text>
<line x1="1533" y1="959.0" x2="1659" y2="959.0" stroke="#1818fa" stroke-width="4"/>
<text x="1669.6" y="978.2" font-family="Liberation Serif, serif" fill="#111" font-size="50" textLength="285.5" lengthAdjust="spacingAndGlyphs">Endmember 6</text>
<line x1="1533" y1="1009.3" x2="1659" y2="1009.3" stroke="#823a94" stroke-width="4"/>
<text x="1669.6" y="1028.6" font-family="Liberation Serif, serif" fill="#111" font-size="50" textLength="285.5" lengthAdjust="spacingAndGlyphs">Endmember 7</text>
<line x1="1533" y1="1059.7" x2="1659" y2="1059.7" stroke="#000000" stroke-width="4"/>
<text x="1669.6" y="1079.0" font-family="Liberation Serif, serif" fill="#111" font-size="50" textLength="285.5" lengthAdjust="spacingAndGlyphs">Endmember 8</text>
<line x1="1533" y1="1110.1" x2="1659" y2="1110.1" stroke="#dc7e0c" stroke-width="4"/>
<text x="1669.6" y="1129.4" font-family="Liberation Serif, serif" fill="#111" font-size="50" textLength="285.5" lengthAdjust="spacingAndGlyphs">Endmember 9</text>
</svg></body></html>
